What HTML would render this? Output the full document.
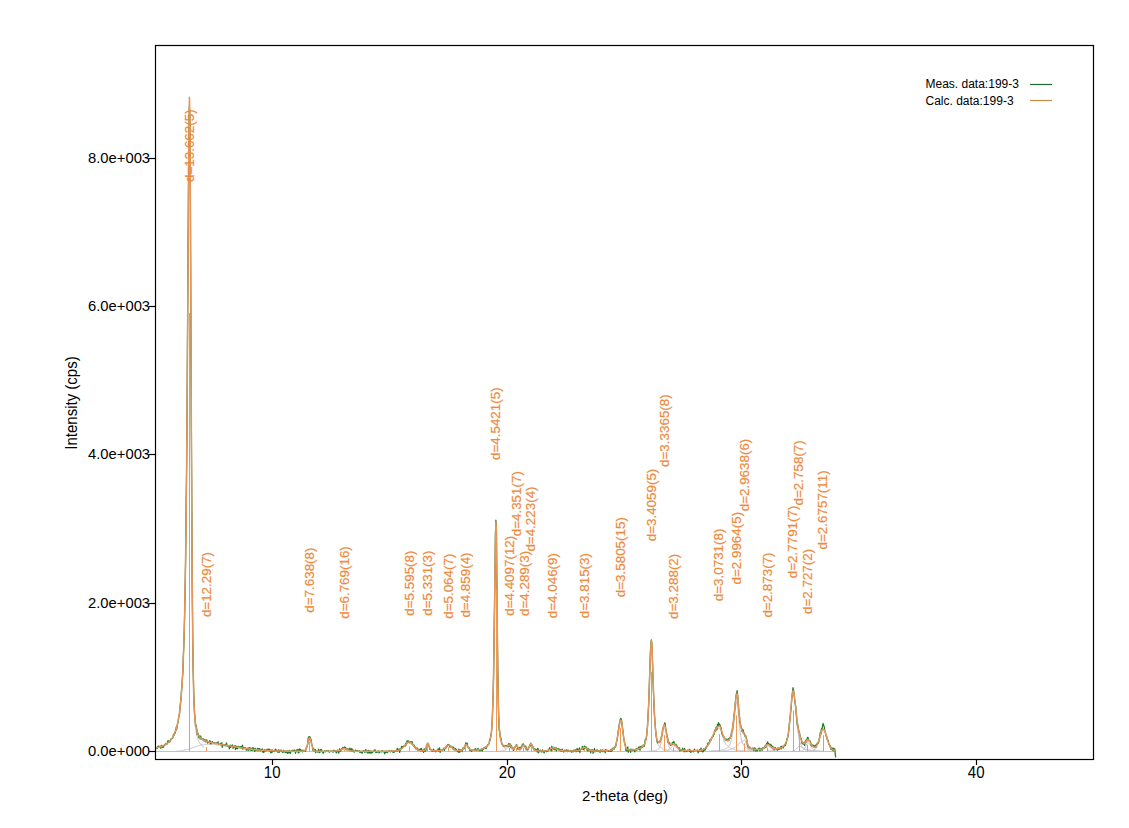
<!DOCTYPE html><html><head><meta charset="utf-8"><style>html,body{margin:0;padding:0;background:#fff;width:1129px;height:828px;overflow:hidden}svg{display:block}text{font-family:"Liberation Sans",sans-serif}</style></head><body>
<svg width="1129" height="828" viewBox="0 0 1129 828">
<rect x="0" y="0" width="1129" height="828" fill="#fff"/>
<defs><clipPath id="c"><rect x="156" y="46" width="937" height="713"/></clipPath></defs>
<g clip-path="url(#c)">
<line x1="155.2" y1="751.5" x2="835.7" y2="751.5" stroke="#C4C0CC" stroke-width="1"/>
<path d="M169.0 741.9L169.4 741.5L169.9 741.0L170.4 740.5L170.8 739.9L171.3 739.3L171.8 738.7L172.2 738.0L172.7 737.3L173.2 736.5L173.6 735.6L174.1 734.6L174.6 733.6L175.0 732.5L175.5 731.2L176.0 729.8L176.4 728.3L176.9 726.7L177.4 724.8L177.8 722.7L178.3 720.4L178.8 717.8L179.2 714.8L179.7 711.5L180.2 707.7L180.6 703.3L181.1 698.3L181.6 692.5L182.0 685.6L182.5 677.6L183.0 668.0L183.4 656.4L183.9 642.5L184.4 625.4L184.8 604.3L185.3 578.1L185.8 545.6L186.2 505.2L186.7 455.6L187.2 395.6L187.6 325.7L188.1 249.6L188.6 176.3L189.0 120.8L189.5 98.9L190.0 131.1L190.4 217.4L190.9 327.2L191.4 435.1L191.9 526.8L192.3 597.0L192.8 646.3L193.3 678.5L193.7 698.7L194.2 711.3L194.7 719.3L195.1 724.7L195.6 728.6L196.1 731.6L196.5 734.1L197.0 736.1L197.5 737.7L197.9 739.2L198.4 740.4L198.9 741.4L199.3 742.3L199.8 743.1L200.3 743.8L200.7 744.4L201.2 745.0L201.7 745.5L202.1 745.9L202.6 746.3L203.1 746.6L203.5 746.9L204.0 747.2" fill="none" stroke="#C4C0CC" stroke-width="1"/>
<path d="M176.3 751.2L176.7 751.2L177.2 751.1L177.7 751.1L178.1 751.0L178.6 751.0L179.1 750.9L179.5 750.9L180.0 750.8L180.5 750.8L181.0 750.7L181.4 750.7L181.9 750.6L182.4 750.5L182.8 750.4L183.3 750.4L183.8 750.3L184.2 750.2L184.7 750.1L185.2 750.0L185.6 749.9L186.1 749.8L186.6 749.7L187.0 749.5L187.5 749.4L188.0 749.3L188.5 749.2L188.9 749.0L189.4 748.9L189.9 748.7L190.3 748.6L190.8 748.4L191.3 748.3L191.7 748.1L192.2 748.0L192.7 747.8L193.1 747.6L193.6 747.5L194.1 747.3L194.6 747.1L195.0 747.0L195.5 746.8L196.0 746.6L196.4 746.5L196.9 746.3L197.4 746.2L197.8 746.0L198.3 745.9L198.8 745.7L199.2 745.6L199.7 745.5L200.2 745.3L200.6 745.2L201.1 745.1L201.6 745.0L202.1 744.9L202.5 744.8L203.0 744.7L203.5 744.6L203.9 744.6L204.4 744.5L204.9 744.5L205.3 744.5L205.8 744.4L206.3 744.4L206.7 744.4L207.2 744.4L207.7 744.4L208.1 744.4L208.6 744.5L209.1 744.5L209.6 744.5L210.0 744.5L210.5 744.5L211.0 744.5L211.4 744.5L211.9 744.6L212.4 744.6L212.8 744.6L213.3 744.6L213.8 744.7L214.2 744.7L214.7 744.7L215.2 744.8L215.6 744.8L216.1 744.9L216.6 744.9L217.1 744.9L217.5 745.0L218.0 745.0L218.5 745.1L218.9 745.1L219.4 745.2L219.9 745.2L220.3 745.3L220.8 745.3L221.3 745.4L221.7 745.4L222.2 745.5L222.7 745.6L223.2 745.6L223.6 745.7L224.1 745.7L224.6 745.8L225.0 745.9L225.5 745.9L226.0 746.0L226.4 746.1L226.9 746.1L227.4 746.2L227.8 746.3L228.3 746.3L228.8 746.4L229.2 746.5L229.7 746.5L230.2 746.6L230.7 746.7L231.1 746.7L231.6 746.8L232.1 746.9L232.5 747.0L233.0 747.0L233.5 747.1L233.9 747.2L234.4 747.2L234.9 747.3L235.3 747.4L235.8 747.5L236.3 747.5L236.7 747.6L237.2 747.7L237.7 747.7L238.2 747.8L238.6 747.9L239.1 747.9L239.6 748.0L240.0 748.1L240.5 748.1L241.0 748.2L241.4 748.3L241.9 748.3L242.4 748.4L242.8 748.5L243.3 748.5L243.8 748.6L244.3 748.7L244.7 748.7L245.2 748.8L245.7 748.8L246.1 748.9L246.6 749.0L247.1 749.0L247.5 749.1L248.0 749.1L248.5 749.2L248.9 749.2L249.4 749.3L249.9 749.3L250.3 749.4L250.8 749.5L251.3 749.5L251.8 749.6L252.2 749.6L252.7 749.6L253.2 749.7L253.6 749.7L254.1 749.8L254.6 749.8L255.0 749.9L255.5 749.9L256.0 750.0L256.4 750.0L256.9 750.0L257.4 750.1L257.8 750.1L258.3 750.2L258.8 750.2L259.3 750.2L259.7 750.3L260.2 750.3L260.7 750.3L261.1 750.4L261.6 750.4L262.1 750.4L262.5 750.5L263.0 750.5L263.5 750.5L263.9 750.6L264.4 750.6L264.9 750.6L265.3 750.6L265.8 750.7L266.3 750.7L266.8 750.7L267.2 750.7L267.7 750.8L268.2 750.8L268.6 750.8L269.1 750.8L269.6 750.9L270.0 750.9L270.5 750.9L271.0 750.9L271.4 750.9L271.9 750.9L272.4 751.0L272.9 751.0L273.3 751.0L273.8 751.0L274.3 751.0L274.7 751.0L275.2 751.1L275.7 751.1L276.1 751.1L276.6 751.1L277.1 751.1L277.5 751.1L278.0 751.1L278.5 751.1L278.9 751.2L279.4 751.2L279.9 751.2L280.4 751.2L280.8 751.2" fill="none" stroke="#C4C0CC" stroke-width="1"/>
<path d="M304.2 751.2L304.6 751.0L305.1 750.7L305.6 750.2L306.0 749.4L306.5 748.3L307.0 746.7L307.4 744.8L307.9 742.7L308.4 740.7L308.8 739.1L309.3 738.2L309.8 738.3L310.2 739.0L310.7 740.4L311.1 742.2L311.6 744.1L312.1 745.9L312.5 747.6L313.0 748.9L313.5 749.8L313.9 750.5L314.4 750.9L314.9 751.2" fill="none" stroke="#C4C0CC" stroke-width="1"/>
<path d="M335.9 751.2L336.4 751.1L336.8 751.1L337.3 751.0L337.8 750.9L338.2 750.8L338.7 750.7L339.2 750.6L339.6 750.4L340.1 750.2L340.6 750.0L341.0 749.8L341.5 749.6L342.0 749.4L342.5 749.2L342.9 749.0L343.4 748.8L343.9 748.7L344.3 748.6L344.8 748.6L345.3 748.7L345.7 748.9L346.2 749.1L346.7 749.3L347.1 749.5L347.6 749.8L348.1 750.0L348.5 750.2L349.0 750.4L349.5 750.6L350.0 750.7L350.4 750.9L350.9 751.0L351.4 751.0L351.8 751.1L352.3 751.2" fill="none" stroke="#C4C0CC" stroke-width="1"/>
<path d="M392.7 751.2L393.2 751.2L393.6 751.2L394.1 751.1L394.6 751.1L395.0 751.1L395.5 751.0L396.0 751.0L396.5 750.9L396.9 750.8L397.4 750.8L397.9 750.6L398.3 750.5L398.8 750.4L399.3 750.2L399.7 750.0L400.2 749.8L400.7 749.5L401.1 749.2L401.6 748.9L402.1 748.5L402.5 748.1L403.0 747.7L403.5 747.2L403.9 746.7L404.4 746.2L404.9 745.6L405.4 745.1L405.8 744.5L406.3 744.0L406.8 743.5L407.2 743.1L407.7 742.7L408.2 742.4L408.6 742.2L409.1 742.2L409.6 742.2L410.0 742.3L410.5 742.6L411.0 742.9L411.4 743.3L411.9 743.8L412.4 744.4L412.9 744.9L413.3 745.5L413.8 746.1L414.3 746.7L414.7 747.2L415.2 747.8L415.7 748.2L416.1 748.7L416.6 749.1L417.1 749.4L417.5 749.8L418.0 750.0L418.5 750.3L418.9 750.5L419.4 750.6L419.9 750.8L420.4 750.9L420.8 751.0L421.3 751.1L421.8 751.1L422.2 751.2L422.7 751.2" fill="none" stroke="#C4C0CC" stroke-width="1"/>
<path d="M423.7 751.2L424.1 751.1L424.6 750.9L425.1 750.5L425.5 749.8L426.0 748.7L426.5 747.2L426.9 745.4L427.4 743.9L427.8 743.5L428.3 744.1L428.8 745.3L429.2 746.7L429.7 748.0L430.2 749.1L430.6 749.8L431.1 750.3L431.6 750.7L432.0 750.9L432.5 751.0L432.9 751.1L433.4 751.2" fill="none" stroke="#C4C0CC" stroke-width="1"/>
<path d="M437.8 751.2L438.3 751.1L438.8 751.1L439.2 751.1L439.7 751.0L440.2 750.9L440.6 750.8L441.1 750.7L441.6 750.6L442.0 750.4L442.5 750.2L443.0 749.9L443.4 749.6L443.9 749.2L444.4 748.8L444.9 748.4L445.3 747.9L445.8 747.4L446.3 746.9L446.7 746.4L447.2 746.0L447.7 745.7L448.1 745.5L448.6 745.4L449.1 745.5L449.5 745.7L450.0 746.0L450.5 746.4L450.9 746.8L451.4 747.3L451.9 747.7L452.3 748.2L452.8 748.6L453.3 749.0L453.7 749.4L454.2 749.7L454.7 750.0L455.1 750.3L455.6 750.5L456.1 750.6L456.5 750.8L457.0 750.9L457.5 751.0L457.9 751.1L458.4 751.1L458.9 751.2" fill="none" stroke="#C4C0CC" stroke-width="1"/>
<path d="M460.8 751.2L461.3 751.1L461.8 750.9L462.2 750.7L462.7 750.3L463.1 749.7L463.6 749.0L464.1 748.1L464.5 747.1L465.0 746.2L465.5 745.4L465.9 745.1L466.4 745.3L466.9 745.7L467.3 746.4L467.8 747.2L468.2 747.9L468.7 748.6L469.2 749.3L469.6 749.8L470.1 750.2L470.6 750.5L471.0 750.8L471.5 750.9L472.0 751.1L472.4 751.1L472.9 751.2" fill="none" stroke="#C4C0CC" stroke-width="1"/>
<path d="M480.5 749.7L481.0 749.6L481.5 749.5L481.9 749.4L482.4 749.2L482.9 749.0L483.3 748.9L483.8 748.7L484.3 748.4L484.7 748.2L485.2 747.9L485.7 747.6L486.1 747.2L486.6 746.8L487.1 746.4L487.5 745.8L488.0 745.2L488.5 744.4L488.9 743.5L489.4 742.5L489.9 741.1L490.3 739.4L490.8 737.1L491.3 733.8L491.7 728.9L492.2 721.5L492.7 710.3L493.1 694.1L493.6 671.7L494.1 642.9L494.5 608.7L495.0 572.4L495.5 540.6L495.9 522.3L496.4 531.2L496.8 578.7L497.3 632.0L497.8 673.1L498.2 700.3L498.7 716.7L499.2 726.5L499.6 732.4L500.1 736.4L500.6 739.2L501.0 741.3L501.5 742.9L502.0 744.1L502.4 745.1L502.9 745.9L503.4 746.6L503.8 747.2L504.3 747.6L504.8 748.0L505.2 748.4L505.7 748.7L506.2 748.9" fill="none" stroke="#C4C0CC" stroke-width="1"/>
<path d="M498.9 751.2L499.3 751.2L499.8 751.1L500.3 751.1L500.7 751.1L501.2 751.0L501.7 751.0L502.1 750.9L502.6 750.8L503.1 750.7L503.5 750.6L504.0 750.4L504.5 750.2L504.9 750.0L505.4 749.8L505.9 749.5L506.3 749.1L506.8 748.7L507.3 748.3L507.7 747.9L508.2 747.5L508.7 747.1L509.1 746.8L509.6 746.6L510.1 746.6L510.5 747.0L511.0 747.8L511.5 748.7L511.9 749.6L512.4 750.2L512.9 750.6L513.4 750.9L513.8 751.1L514.3 751.2" fill="none" stroke="#C4C0CC" stroke-width="1"/>
<path d="M511.9 751.2L512.4 751.1L512.9 751.0L513.3 750.7L513.8 750.4L514.2 749.8L514.7 749.1L515.2 748.2L515.6 747.3L516.1 746.6L516.5 746.4L517.0 746.8L517.5 747.5L517.9 748.3L518.4 749.1L518.9 749.8L519.3 750.3L519.8 750.6L520.2 750.9L520.7 751.0L521.2 751.1L521.6 751.2" fill="none" stroke="#C4C0CC" stroke-width="1"/>
<path d="M518.0 751.2L518.5 751.1L519.0 751.0L519.4 750.8L519.9 750.6L520.4 750.3L520.8 749.8L521.3 749.1L521.8 748.3L522.2 747.4L522.7 746.5L523.2 746.0L523.6 745.9L524.1 746.4L524.6 747.1L525.0 748.0L525.5 748.9L525.9 749.6L526.4 750.1L526.9 750.5L527.3 750.8L527.8 751.0L528.3 751.1L528.7 751.1" fill="none" stroke="#C4C0CC" stroke-width="1"/>
<path d="M524.5 751.2L524.9 751.1L525.4 751.0L525.9 751.0L526.3 750.8L526.8 750.6L527.3 750.3L527.7 749.9L528.2 749.3L528.7 748.6L529.1 747.6L529.6 746.5L530.1 745.4L530.5 744.5L531.0 744.1L531.5 744.4L531.9 745.3L532.4 746.6L532.9 747.9L533.3 748.9L533.8 749.7L534.3 750.3L534.7 750.7L535.2 750.9L535.7 751.0L536.1 751.1L536.6 751.2" fill="none" stroke="#C4C0CC" stroke-width="1"/>
<path d="M545.5 751.2L546.0 751.1L546.4 751.0L546.9 750.9L547.4 750.8L547.8 750.6L548.3 750.4L548.8 750.2L549.2 750.0L549.7 749.7L550.2 749.4L550.7 749.0L551.1 748.7L551.6 748.4L552.1 748.2L552.5 748.0L553.0 748.0L553.5 748.0L553.9 748.1L554.4 748.3L554.9 748.5L555.3 748.7L555.8 748.9L556.3 749.2L556.8 749.4L557.2 749.6L557.7 749.8L558.2 750.0L558.6 750.2L559.1 750.4L559.6 750.5L560.0 750.7L560.5 750.8L561.0 750.9L561.4 750.9L561.9 751.0L562.4 751.1L562.9 751.1L563.3 751.1L563.8 751.2" fill="none" stroke="#C4C0CC" stroke-width="1"/>
<path d="M576.2 751.2L576.7 751.1L577.1 751.1L577.6 751.0L578.1 750.9L578.5 750.8L579.0 750.7L579.5 750.5L579.9 750.3L580.4 750.1L580.8 749.8L581.3 749.5L581.8 749.2L582.2 748.9L582.7 748.5L583.2 748.2L583.6 748.0L584.1 747.8L584.6 747.8L585.0 747.8L585.5 748.0L586.0 748.3L586.4 748.7L586.9 749.0L587.4 749.4L587.8 749.7L588.3 750.0L588.8 750.3L589.2 750.5L589.7 750.7L590.2 750.8L590.6 750.9L591.1 751.0L591.6 751.1L592.0 751.2" fill="none" stroke="#C4C0CC" stroke-width="1"/>
<path d="M602.7 751.2L603.2 751.2L603.6 751.2L604.1 751.1L604.6 751.1L605.1 751.1L605.5 751.1L606.0 751.1L606.5 751.0L606.9 751.0L607.4 751.0L607.9 750.9L608.3 750.9L608.8 750.8L609.3 750.8L609.7 750.7L610.2 750.7L610.7 750.6L611.1 750.5L611.6 750.4L612.1 750.2L612.6 750.0L613.0 749.8L613.5 749.4L614.0 748.9L614.4 748.3L614.9 747.5L615.4 746.4L615.8 745.0L616.3 743.3L616.8 741.2L617.2 738.8L617.7 736.1L618.2 733.2L618.6 730.2L619.1 727.3L619.6 724.6L620.0 722.5L620.5 721.1L621.0 720.8L621.5 721.8L621.9 724.1L622.4 727.5L622.9 731.3L623.3 735.2L623.8 738.8L624.3 741.9L624.7 744.5L625.2 746.4L625.7 747.9L626.1 748.9L626.6 749.6L627.1 750.1L627.5 750.4L628.0 750.6L628.5 750.7L628.9 750.8L629.4 750.9L629.9 751.0L630.4 751.0L630.8 751.1L631.3 751.1L631.8 751.1L632.2 751.2L632.7 751.2" fill="none" stroke="#C4C0CC" stroke-width="1"/>
<path d="M632.6 750.5L633.0 750.4L633.5 750.4L633.9 750.3L634.4 750.3L634.9 750.2L635.3 750.1L635.8 750.0L636.3 749.9L636.7 749.8L637.2 749.7L637.7 749.6L638.1 749.5L638.6 749.3L639.0 749.2L639.5 749.0L640.0 748.8L640.4 748.6L640.9 748.3L641.4 748.0L641.8 747.7L642.3 747.3L642.8 746.9L643.2 746.4L643.7 745.8L644.1 745.1L644.6 744.2L645.1 743.0L645.5 741.6L646.0 739.5L646.5 736.8L646.9 733.1L647.4 728.0L647.8 721.2L648.3 712.5L648.8 701.8L649.2 689.1L649.7 675.2L650.2 661.2L650.6 649.4L651.1 642.4L651.6 642.4L652.0 649.4L652.5 661.2L652.9 675.2L653.4 689.1L653.9 701.8L654.3 712.5L654.8 721.2L655.3 728.0L655.7 733.1L656.2 736.8L656.7 739.5L657.1 741.6L657.6 743.0L658.0 744.2L658.5 745.1L659.0 745.8L659.4 746.4L659.9 746.9L660.4 747.3L660.8 747.7L661.3 748.0L661.8 748.3L662.2 748.6L662.7 748.8L663.1 749.0L663.6 749.2L664.1 749.3L664.5 749.5L665.0 749.6L665.5 749.7L665.9 749.8L666.4 749.9L666.9 750.0L667.3 750.1L667.8 750.2L668.2 750.3L668.7 750.3L669.2 750.4L669.6 750.4L670.1 750.5" fill="none" stroke="#C4C0CC" stroke-width="1"/>
<path d="M648.2 751.2L648.7 751.2L649.2 751.2L649.6 751.1L650.1 751.1L650.6 751.1L651.0 751.1L651.5 751.0L652.0 751.0L652.4 751.0L652.9 750.9L653.3 750.9L653.8 750.8L654.3 750.8L654.7 750.7L655.2 750.6L655.7 750.5L656.1 750.4L656.6 750.3L657.1 750.1L657.5 749.9L658.0 749.6L658.5 749.2L658.9 748.7L659.4 747.9L659.9 747.0L660.3 745.7L660.8 744.0L661.2 742.0L661.7 739.6L662.2 736.9L662.6 734.1L663.1 731.4L663.6 729.1L664.0 727.8L664.5 727.6L665.0 728.5L665.4 730.3L665.9 732.7L666.4 735.3L666.8 737.9L667.3 740.3L667.7 742.4L668.2 744.2L668.7 745.7L669.1 746.9L669.6 747.8L670.1 748.5L670.5 749.1L671.0 749.5L671.5 749.8L671.9 750.0L672.4 750.2L672.9 750.3L673.3 750.4L673.8 750.5L674.2 750.6L674.7 750.7L675.2 750.7L675.6 750.8L676.1 750.9L676.6 750.9L677.0 750.9L677.5 751.0L678.0 751.0L678.4 751.0L678.9 751.1L679.4 751.1L679.8 751.1L680.3 751.1L680.8 751.2L681.2 751.2L681.7 751.2" fill="none" stroke="#C4C0CC" stroke-width="1"/>
<path d="M662.8 751.2L663.2 751.2L663.7 751.1L664.2 751.1L664.6 751.1L665.1 751.0L665.6 750.9L666.0 750.8L666.5 750.7L667.0 750.6L667.4 750.4L667.9 750.2L668.4 749.9L668.8 749.6L669.3 749.3L669.8 748.9L670.2 748.4L670.7 748.0L671.2 747.5L671.6 747.0L672.1 746.5L672.6 746.1L673.0 745.8L673.5 745.7L674.0 745.7L674.4 745.9L674.9 746.2L675.4 746.6L675.8 747.1L676.3 747.7L676.8 748.2L677.2 748.7L677.7 749.1L678.2 749.5L678.6 749.9L679.1 750.1L679.6 750.4L680.0 750.6L680.5 750.7L681.0 750.8L681.4 750.9L681.9 751.0L682.4 751.1L682.8 751.1L683.3 751.2L683.8 751.2" fill="none" stroke="#C4C0CC" stroke-width="1"/>
<path d="M699.9 751.2L700.4 751.1L700.8 751.0L701.3 750.9L701.8 750.8L702.3 750.7L702.7 750.5L703.2 750.3L703.7 750.1L704.1 749.8L704.6 749.6L705.1 749.2L705.5 748.8L706.0 748.4L706.5 747.9L706.9 747.4L707.4 746.9L707.9 746.2L708.3 745.5L708.8 744.8L709.3 744.0L709.8 743.2L710.2 742.3L710.7 741.4L711.2 740.4L711.6 739.4L712.1 738.4L712.6 737.4L713.0 736.4L713.5 735.4L714.0 734.4L714.4 733.4L714.9 732.5L715.4 731.7L715.9 730.9L716.3 730.2L716.8 729.5L717.3 729.0L717.7 728.6L718.2 728.3L718.7 728.1L719.1 728.1L719.6 728.3L720.1 729.0L720.5 730.0L721.0 731.3L721.5 732.8L721.9 734.3L722.4 735.9L722.9 737.3L723.4 738.7L723.8 739.9L724.3 741.0L724.8 742.0L725.2 742.9L725.7 743.7L726.2 744.4L726.6 745.0L727.1 745.6L727.6 746.1L728.0 746.5L728.5 746.9L729.0 747.2L729.5 747.6L729.9 747.8L730.4 748.1L730.9 748.3L731.3 748.5L731.8 748.7L732.3 748.9L732.7 749.1L733.2 749.2L733.7 749.3L734.1 749.5L734.6 749.6L735.1 749.7L735.5 749.8L736.0 749.9L736.5 749.9L737.0 750.0L737.4 750.1L737.9 750.2L738.4 750.2L738.8 750.3L739.3 750.3L739.8 750.4L740.2 750.4L740.7 750.5L741.2 750.5L741.6 750.5L742.1 750.6L742.6 750.6L743.1 750.7L743.5 750.7L744.0 750.7L744.5 750.7L744.9 750.8L745.4 750.8L745.9 750.8L746.3 750.8L746.8 750.9L747.3 750.9L747.7 750.9L748.2 750.9L748.7 750.9L749.1 751.0L749.6 751.0L750.1 751.0L750.6 751.0L751.0 751.0L751.5 751.0L752.0 751.0L752.4 751.1L752.9 751.1L753.4 751.1L753.8 751.1L754.3 751.1L754.8 751.1L755.2 751.1L755.7 751.1L756.2 751.1" fill="none" stroke="#C4C0CC" stroke-width="1"/>
<path d="M708.9 751.0L709.4 751.0L709.9 751.0L710.3 751.0L710.8 750.9L711.3 750.9L711.7 750.9L712.2 750.9L712.7 750.9L713.1 750.8L713.6 750.8L714.1 750.8L714.5 750.7L715.0 750.7L715.5 750.7L715.9 750.6L716.4 750.6L716.8 750.6L717.3 750.5L717.8 750.5L718.2 750.4L718.7 750.4L719.2 750.3L719.6 750.3L720.1 750.2L720.6 750.1L721.0 750.0L721.5 750.0L722.0 749.9L722.4 749.8L722.9 749.7L723.4 749.5L723.8 749.4L724.3 749.3L724.8 749.1L725.2 748.9L725.7 748.7L726.2 748.5L726.6 748.2L727.1 747.9L727.6 747.5L728.0 747.1L728.5 746.6L729.0 745.9L729.4 745.2L729.9 744.2L730.4 743.0L730.8 741.6L731.3 739.8L731.8 737.7L732.2 735.2L732.7 732.3L733.2 729.0L733.6 725.2L734.1 721.2L734.5 716.8L735.0 712.5L735.5 708.4L735.9 704.9L736.4 702.4L736.9 701.3L737.3 702.2L737.8 706.2L738.3 711.8L738.7 717.9L739.2 723.5L739.7 728.3L740.1 732.2L740.6 735.3L741.1 737.9L741.5 739.9L742.0 741.6L742.5 742.9L742.9 744.0L743.4 744.9L743.9 745.7L744.3 746.3L744.8 746.9L745.3 747.3L745.7 747.7L746.2 748.1L746.7 748.4L747.1 748.6L747.6 748.9L748.1 749.1L748.5 749.3L749.0 749.4L749.5 749.6L749.9 749.7L750.4 749.8L750.9 749.9L751.3 750.0L751.8 750.1L752.2 750.2L752.7 750.3L753.2 750.3L753.6 750.4L754.1 750.5L754.6 750.5L755.0 750.6L755.5 750.6L756.0 750.7L756.4 750.7L756.9 750.7" fill="none" stroke="#C4C0CC" stroke-width="1"/>
<path d="M710.9 751.2L711.4 751.2L711.9 751.2L712.3 751.2L712.8 751.2L713.3 751.2L713.7 751.1L714.2 751.1L714.7 751.1L715.1 751.1L715.6 751.1L716.1 751.1L716.5 751.1L717.0 751.1L717.5 751.0L717.9 751.0L718.4 751.0L718.9 751.0L719.3 751.0L719.8 751.0L720.3 750.9L720.7 750.9L721.2 750.9L721.7 750.9L722.1 750.8L722.6 750.8L723.1 750.8L723.5 750.7L724.0 750.7L724.5 750.7L724.9 750.6L725.4 750.6L725.9 750.5L726.3 750.4L726.8 750.4L727.3 750.3L727.8 750.2L728.2 750.1L728.7 750.0L729.2 749.9L729.6 749.8L730.1 749.6L730.6 749.5L731.0 749.3L731.5 749.1L732.0 748.9L732.4 748.7L732.9 748.5L733.4 748.2L733.8 747.9L734.3 747.7L734.8 747.4L735.2 747.0L735.7 746.7L736.2 746.3L736.6 746.0L737.1 745.6L737.6 745.2L738.0 744.8L738.5 744.4L739.0 744.0L739.4 743.5L739.9 743.1L740.4 742.7L740.8 742.3L741.3 742.0L741.8 741.6L742.2 741.3L742.7 741.0L743.2 740.8L743.6 740.6L744.1 740.5L744.6 740.4L745.0 740.5L745.5 741.2L746.0 742.5L746.4 744.0L746.9 745.5L747.4 746.9L747.8 748.1L748.3 748.9L748.8 749.6L749.2 750.1L749.7 750.4L750.2 750.6L750.6 750.8L751.1 750.9L751.6 751.0L752.1 751.0L752.5 751.1L753.0 751.1L753.5 751.2L753.9 751.2" fill="none" stroke="#C4C0CC" stroke-width="1"/>
<path d="M758.8 751.2L759.3 751.2L759.8 751.1L760.2 751.0L760.7 750.9L761.2 750.8L761.6 750.7L762.1 750.5L762.6 750.2L763.0 749.9L763.5 749.6L764.0 749.2L764.4 748.7L764.9 748.3L765.4 747.8L765.8 747.3L766.3 746.8L766.8 746.4L767.2 746.2L767.7 746.1L768.2 746.1L768.6 746.3L769.1 746.6L769.6 746.9L770.0 747.4L770.5 747.8L771.0 748.3L771.4 748.7L771.9 749.1L772.4 749.5L772.8 749.8L773.3 750.1L773.8 750.3L774.2 750.5L774.7 750.7L775.2 750.8L775.6 750.9L776.1 751.0L776.6 751.1L777.0 751.1L777.5 751.2" fill="none" stroke="#C4C0CC" stroke-width="1"/>
<path d="M767.0 750.8L767.5 750.8L767.9 750.7L768.4 750.7L768.9 750.7L769.3 750.7L769.8 750.6L770.3 750.6L770.7 750.5L771.2 750.5L771.7 750.5L772.1 750.4L772.6 750.4L773.1 750.3L773.5 750.3L774.0 750.2L774.5 750.1L774.9 750.1L775.4 750.0L775.9 749.9L776.3 749.8L776.8 749.7L777.3 749.6L777.7 749.5L778.2 749.4L778.7 749.3L779.1 749.1L779.6 749.0L780.1 748.8L780.5 748.6L781.0 748.4L781.5 748.1L781.9 747.9L782.4 747.6L782.9 747.2L783.3 746.9L783.8 746.4L784.3 745.9L784.7 745.3L785.2 744.6L785.7 743.7L786.1 742.6L786.6 741.3L787.1 739.8L787.5 737.9L788.0 735.6L788.5 732.8L788.9 729.5L789.4 725.6L789.9 721.2L790.3 716.2L790.8 710.8L791.3 705.3L791.7 700.0L792.2 695.6L792.7 692.7L793.1 691.8L793.6 692.8L794.1 695.2L794.5 698.8L795.0 703.3L795.5 708.1L795.9 713.1L796.4 718.0L796.9 722.6L797.3 726.9L797.8 730.7L798.3 734.0L798.7 736.8L799.2 739.2L799.7 741.2L800.1 742.8L800.6 744.1L801.1 745.1L801.5 746.0L802.0 746.7L802.5 747.2L802.9 747.7L803.4 748.0L803.9 748.3L804.3 748.6L804.8 748.8L805.3 749.0L805.7 749.2L806.2 749.3L806.7 749.5L807.1 749.6L807.6 749.7L808.1 749.8L808.5 749.9L809.0 750.0L809.5 750.1L809.9 750.1L810.4 750.2L810.9 750.3L811.3 750.3L811.8 750.4L812.3 750.4L812.7 750.5L813.2 750.5L813.7 750.6L814.1 750.6L814.6 750.7L815.1 750.7L815.5 750.7L816.0 750.8L816.5 750.8L816.9 750.8L817.4 750.8L817.9 750.9L818.3 750.9L818.8 750.9L819.3 750.9L819.7 750.9L820.2 751.0L820.7 751.0L821.1 751.0L821.6 751.0L822.1 751.0L822.5 751.0" fill="none" stroke="#C4C0CC" stroke-width="1"/>
<path d="M792.2 751.2L792.6 751.1L793.1 751.0L793.6 750.9L794.0 750.7L794.5 750.5L795.0 750.2L795.4 749.8L795.9 749.4L796.4 748.8L796.8 748.2L797.3 747.6L797.8 747.0L798.2 746.5L798.7 746.3L799.2 746.2L799.6 746.3L800.1 746.4L800.6 746.6L801.1 746.9L801.5 747.2L802.0 747.5L802.5 747.8L802.9 748.1L803.4 748.5L803.9 748.8L804.3 749.1L804.8 749.3L805.3 749.6L805.7 749.8L806.2 750.0L806.7 750.2L807.1 750.4L807.6 750.5L808.1 750.7L808.5 750.8L809.0 750.8L809.5 750.9L810.0 751.0L810.4 751.0L810.9 751.1L811.4 751.1L811.8 751.2L812.3 751.2" fill="none" stroke="#C4C0CC" stroke-width="1"/>
<path d="M798.9 751.2L799.4 751.1L799.9 751.1L800.3 751.1L800.8 751.0L801.3 750.9L801.7 750.8L802.2 750.7L802.7 750.5L803.1 750.3L803.6 750.0L804.0 749.5L804.5 748.9L805.0 748.2L805.4 747.3L805.9 746.2L806.4 745.1L806.8 744.1L807.3 743.2L807.8 742.8L808.2 742.8L808.7 743.1L809.2 743.5L809.6 744.1L810.1 744.8L810.6 745.5L811.0 746.2L811.5 746.9L812.0 747.6L812.4 748.2L812.9 748.7L813.4 749.2L813.8 749.6L814.3 750.0L814.8 750.2L815.2 750.5L815.7 750.6L816.2 750.8L816.6 750.9L817.1 751.0L817.6 751.0L818.0 751.1L818.5 751.1L818.9 751.2L819.4 751.2" fill="none" stroke="#C4C0CC" stroke-width="1"/>
<path d="M806.8 751.2L807.3 751.2L807.7 751.2L808.2 751.1L808.7 751.1L809.1 751.1L809.6 751.1L810.1 751.0L810.5 751.0L811.0 750.9L811.5 750.9L811.9 750.8L812.4 750.7L812.9 750.6L813.3 750.5L813.8 750.3L814.3 750.0L814.7 749.7L815.2 749.3L815.7 748.8L816.1 748.2L816.6 747.4L817.1 746.5L817.5 745.4L818.0 744.2L818.4 742.8L818.9 741.3L819.4 739.7L819.8 738.0L820.3 736.3L820.8 734.7L821.2 733.2L821.7 731.9L822.2 730.9L822.6 730.2L823.1 730.0L823.6 730.2L824.0 730.7L824.5 731.5L825.0 732.5L825.4 733.8L825.9 735.2L826.4 736.7L826.8 738.2L827.3 739.7L827.8 741.2L828.2 742.6L828.7 743.9L829.2 745.1L829.6 746.2L830.1 747.1L830.6 747.9L831.0 748.6L831.5 749.1L832.0 749.6L832.4 749.9L832.9 750.2L833.4 750.5L833.8 750.6L834.3 750.8L834.8 750.9L835.2 751.0L835.7 751.1" fill="none" stroke="#C4C0CC" stroke-width="1"/>
<path d="M155.2 748.3L155.6 747.4L156.1 748.0L156.6 748.0L157.0 748.6L157.5 747.7L158.0 746.2L158.5 746.8L158.9 746.0L159.4 746.7L159.9 746.4L160.3 746.5L160.8 748.3L161.3 745.4L161.7 745.6L162.2 745.5L162.7 747.6L163.1 747.5L163.6 746.3L164.1 745.7L164.6 744.6L165.0 744.7L165.5 743.8L166.0 744.8L166.4 743.5L166.9 743.1L167.4 743.9L167.8 740.9L168.3 741.8L168.8 740.7L169.2 742.2L169.7 741.9L170.2 741.0L170.7 740.1L171.1 738.7L171.6 738.5L172.1 738.6L172.5 738.5L173.0 737.2L173.5 734.3L173.9 735.7L174.4 733.4L174.9 732.1L175.3 733.2L175.8 729.9L176.3 726.9L176.8 729.3L177.2 725.4L177.7 723.1L178.2 721.7L178.6 717.4L179.1 715.3L179.6 713.9L180.0 707.0L180.5 702.9L181.0 697.6L181.4 691.1L181.9 686.0L182.4 678.6L182.9 671.7L183.3 657.3L183.8 646.0L184.3 629.3L184.7 610.8L185.2 585.2L185.7 553.2L186.1 509.9L186.6 470.9L187.1 411.5L187.5 338.1L188.0 258.0L188.5 185.5L189.0 134.2L189.4 107.2L189.9 116.1L190.4 199.0L190.8 308.1L191.3 411.5L191.8 506.9L192.2 583.3L192.7 635.6L193.2 669.9L193.7 689.9L194.1 704.7L194.6 713.3L195.1 718.8L195.5 725.4L196.0 724.8L196.5 727.6L196.9 730.0L197.4 734.6L197.9 734.3L198.3 733.6L198.8 737.6L199.3 736.5L199.8 735.8L200.2 739.1L200.7 736.2L201.2 737.9L201.6 739.0L202.1 738.8L202.6 738.8L203.0 739.7L203.5 738.8L204.0 741.0L204.4 740.9L204.9 739.5L205.4 740.8L205.9 742.0L206.3 740.2L206.8 739.8L207.3 742.0L207.7 743.2L208.2 742.0L208.7 742.1L209.1 742.4L209.6 740.7L210.1 743.5L210.5 741.1L211.0 743.9L211.5 743.5L212.0 742.1L212.4 741.6L212.9 742.0L213.4 742.7L213.8 743.0L214.3 743.1L214.8 742.7L215.2 743.6L215.7 743.2L216.2 742.9L216.6 743.6L217.1 742.9L217.6 743.2L218.1 741.7L218.5 743.6L219.0 744.5L219.5 744.5L219.9 744.2L220.4 743.3L220.9 744.8L221.3 744.1L221.8 742.6L222.3 747.4L222.7 745.9L223.2 744.5L223.7 744.5L224.2 744.7L224.6 745.5L225.1 744.4L225.6 744.9L226.0 745.9L226.5 742.8L227.0 745.1L227.4 746.1L227.9 745.7L228.4 746.0L228.9 745.9L229.3 748.8L229.8 746.5L230.3 745.0L230.7 747.4L231.2 746.3L231.7 745.3L232.1 745.5L232.6 744.9L233.1 748.3L233.5 747.0L234.0 747.1L234.5 746.1L235.0 745.7L235.4 749.7L235.9 745.9L236.4 748.6L236.8 746.5L237.3 748.8L237.8 747.1L238.2 746.2L238.7 747.6L239.2 747.4L239.6 746.8L240.1 747.6L240.6 747.9L241.1 746.3L241.5 746.8L242.0 748.3L242.5 745.2L242.9 749.3L243.4 747.3L243.9 748.5L244.3 748.2L244.8 747.7L245.3 748.2L245.7 747.9L246.2 750.2L246.7 750.2L247.2 748.1L247.6 749.8L248.1 749.9L248.6 750.4L249.0 747.7L249.5 748.3L250.0 747.6L250.4 750.1L250.9 749.2L251.4 750.4L251.8 748.5L252.3 747.7L252.8 750.3L253.3 747.9L253.7 748.5L254.2 749.7L254.7 751.6L255.1 748.2L255.6 749.8L256.1 750.3L256.5 749.4L257.0 749.4L257.5 748.3L258.0 750.9L258.4 748.8L258.9 748.5L259.4 748.5L259.8 750.2L260.3 750.9L260.8 749.1L261.2 750.1L261.7 750.1L262.2 748.8L262.6 750.5L263.1 752.6L263.6 750.7L264.1 752.2L264.5 749.6L265.0 750.1L265.5 751.1L265.9 750.5L266.4 749.7L266.9 750.5L267.3 749.2L267.8 750.6L268.3 749.6L268.7 749.1L269.2 749.0L269.7 751.4L270.2 749.8L270.6 752.6L271.1 751.8L271.6 752.7L272.0 749.7L272.5 752.0L273.0 750.8L273.4 751.0L273.9 750.9L274.4 751.5L274.8 750.6L275.3 749.1L275.8 750.9L276.3 750.4L276.7 749.9L277.2 751.1L277.7 752.2L278.1 751.5L278.6 749.9L279.1 752.6L279.5 751.6L280.0 750.0L280.5 750.2L280.9 751.0L281.4 750.2L281.9 750.9L282.4 752.3L282.8 752.6L283.3 751.7L283.8 750.2L284.2 751.7L284.7 752.0L285.2 751.9L285.6 752.7L286.1 751.2L286.6 752.3L287.0 750.8L287.5 753.5L288.0 750.8L288.5 751.8L288.9 753.1L289.4 750.4L289.9 751.4L290.3 753.4L290.8 752.1L291.3 750.9L291.7 751.6L292.2 750.4L292.7 750.4L293.2 750.5L293.6 750.9L294.1 749.9L294.6 750.5L295.0 750.8L295.5 753.3L296.0 750.3L296.4 749.9L296.9 751.5L297.4 751.7L297.8 749.3L298.3 753.0L298.8 750.7L299.3 748.8L299.7 752.1L300.2 750.5L300.7 749.3L301.1 751.3L301.6 750.6L302.1 750.2L302.5 752.0L303.0 751.2L303.5 750.8L303.9 750.2L304.4 750.9L304.9 750.8L305.4 751.3L305.8 750.0L306.3 747.7L306.8 747.1L307.2 746.3L307.7 744.1L308.2 737.9L308.6 737.4L309.1 736.5L309.6 739.8L310.0 736.8L310.5 738.5L311.0 739.1L311.5 742.6L311.9 745.2L312.4 746.3L312.9 750.3L313.3 748.3L313.8 749.8L314.3 751.3L314.7 749.6L315.2 749.3L315.7 752.6L316.1 751.9L316.6 751.0L317.1 751.1L317.6 751.7L318.0 752.3L318.5 749.2L319.0 750.3L319.4 752.5L319.9 752.6L320.4 749.6L320.8 750.3L321.3 749.5L321.8 750.5L322.3 752.2L322.7 751.0L323.2 753.4L323.7 752.0L324.1 751.3L324.6 750.8L325.1 752.0L325.5 751.4L326.0 750.8L326.5 750.9L326.9 750.6L327.4 751.1L327.9 751.6L328.4 750.5L328.8 751.2L329.3 752.1L329.8 751.9L330.2 751.2L330.7 751.3L331.2 751.1L331.6 751.2L332.1 751.0L332.6 751.3L333.0 752.4L333.5 750.7L334.0 750.1L334.5 750.7L334.9 751.3L335.4 750.6L335.9 752.0L336.3 752.9L336.8 750.9L337.3 751.8L337.7 750.0L338.2 751.8L338.7 753.2L339.1 751.5L339.6 748.7L340.1 750.5L340.6 751.3L341.0 750.5L341.5 748.9L342.0 748.7L342.4 748.8L342.9 747.3L343.4 747.9L343.8 748.6L344.3 747.9L344.8 746.8L345.2 747.6L345.7 747.7L346.2 750.0L346.7 749.3L347.1 748.6L347.6 749.9L348.1 748.8L348.5 749.5L349.0 749.3L349.5 750.6L349.9 748.0L350.4 749.5L350.9 751.0L351.3 750.8L351.8 748.4L352.3 751.4L352.8 750.2L353.2 750.1L353.7 751.1L354.2 752.3L354.6 751.0L355.1 750.8L355.6 750.1L356.0 750.4L356.5 751.2L357.0 750.4L357.5 750.7L357.9 751.0L358.4 751.2L358.9 751.5L359.3 750.6L359.8 752.3L360.3 751.9L360.7 751.3L361.2 752.7L361.7 751.7L362.1 753.3L362.6 752.0L363.1 750.7L363.6 750.7L364.0 751.3L364.5 751.5L365.0 752.7L365.4 749.5L365.9 750.8L366.4 750.2L366.8 752.2L367.3 751.5L367.8 753.1L368.2 750.5L368.7 750.4L369.2 753.2L369.7 751.3L370.1 750.7L370.6 753.1L371.1 753.1L371.5 752.4L372.0 751.9L372.5 752.7L372.9 751.3L373.4 751.0L373.9 750.7L374.3 750.6L374.8 749.8L375.3 750.1L375.8 752.6L376.2 751.8L376.7 752.3L377.2 752.4L377.6 751.4L378.1 751.3L378.6 750.8L379.0 752.9L379.5 752.5L380.0 751.3L380.4 751.5L380.9 751.6L381.4 751.3L381.9 752.0L382.3 750.5L382.8 750.9L383.3 751.3L383.7 751.9L384.2 751.4L384.7 753.9L385.1 752.2L385.6 751.2L386.1 752.7L386.5 751.0L387.0 751.0L387.5 752.6L388.0 751.4L388.4 751.5L388.9 750.7L389.4 750.5L389.8 751.2L390.3 752.0L390.8 751.3L391.2 751.2L391.7 750.4L392.2 750.8L392.7 751.8L393.1 752.4L393.6 751.4L394.1 751.7L394.5 752.1L395.0 751.0L395.5 751.4L395.9 750.7L396.4 750.2L396.9 751.1L397.3 748.3L397.8 750.8L398.3 749.3L398.8 750.1L399.2 748.9L399.7 752.3L400.2 750.4L400.6 749.1L401.1 748.5L401.6 746.4L402.0 748.1L402.5 746.7L403.0 746.8L403.4 746.1L403.9 746.0L404.4 746.2L404.9 745.0L405.3 746.1L405.8 743.1L406.3 745.0L406.7 743.1L407.2 740.6L407.7 742.8L408.1 742.3L408.6 740.8L409.1 741.9L409.5 742.9L410.0 741.8L410.5 741.7L411.0 741.9L411.4 744.0L411.9 741.7L412.4 742.4L412.8 744.7L413.3 745.0L413.8 746.3L414.2 745.0L414.7 747.7L415.2 746.8L415.6 748.5L416.1 749.2L416.6 748.1L417.1 747.8L417.5 749.5L418.0 750.5L418.5 749.2L418.9 750.2L419.4 750.0L419.9 748.9L420.3 749.4L420.8 751.2L421.3 748.4L421.8 750.7L422.2 750.0L422.7 751.4L423.2 750.8L423.6 752.5L424.1 748.8L424.6 749.1L425.0 751.3L425.5 751.0L426.0 750.1L426.4 745.6L426.9 745.6L427.4 743.6L427.9 743.5L428.3 743.9L428.8 746.1L429.3 746.4L429.7 749.2L430.2 748.8L430.7 749.2L431.1 749.5L431.6 750.5L432.1 751.4L432.5 750.4L433.0 751.2L433.5 749.2L434.0 750.0L434.4 750.9L434.9 751.3L435.4 751.5L435.8 751.8L436.3 751.2L436.8 750.5L437.2 750.3L437.7 750.2L438.2 748.7L438.6 751.5L439.1 750.7L439.6 747.8L440.1 752.5L440.5 751.0L441.0 750.2L441.5 750.1L441.9 749.7L442.4 750.1L442.9 749.2L443.3 749.3L443.8 748.2L444.3 750.5L444.7 749.0L445.2 747.6L445.7 748.2L446.2 747.7L446.6 745.5L447.1 746.4L447.6 744.7L448.0 744.3L448.5 744.7L449.0 744.6L449.4 745.4L449.9 747.1L450.4 746.0L450.8 745.9L451.3 747.3L451.8 747.4L452.3 746.9L452.7 749.0L453.2 747.9L453.7 747.0L454.1 749.8L454.6 749.4L455.1 749.9L455.5 748.4L456.0 749.8L456.5 749.4L457.0 751.1L457.4 750.5L457.9 750.5L458.4 752.4L458.8 749.1L459.3 749.7L459.8 752.3L460.2 749.8L460.7 750.6L461.2 750.0L461.6 749.9L462.1 751.6L462.6 749.9L463.1 747.7L463.5 749.1L464.0 748.7L464.5 748.0L464.9 746.9L465.4 744.5L465.9 742.6L466.3 744.1L466.8 744.7L467.3 743.2L467.7 746.9L468.2 747.8L468.7 747.3L469.2 747.9L469.6 750.0L470.1 750.6L470.6 749.4L471.0 749.6L471.5 751.4L472.0 750.3L472.4 750.7L472.9 749.7L473.4 750.3L473.8 750.3L474.3 750.6L474.8 749.1L475.3 748.7L475.7 750.5L476.2 749.2L476.7 750.8L477.1 749.9L477.6 749.2L478.1 748.3L478.5 750.2L479.0 749.8L479.5 749.5L479.9 751.1L480.4 749.5L480.9 750.1L481.4 748.9L481.8 750.3L482.3 751.0L482.8 748.8L483.2 748.4L483.7 749.0L484.2 747.3L484.6 748.3L485.1 748.4L485.6 746.9L486.0 748.7L486.5 747.4L487.0 746.2L487.5 744.8L487.9 745.2L488.4 744.0L488.9 744.1L489.3 742.0L489.8 739.2L490.3 740.2L490.7 734.4L491.2 734.7L491.7 729.2L492.2 721.7L492.6 709.6L493.1 697.0L493.6 676.5L494.0 643.0L494.5 608.0L495.0 571.3L495.4 533.6L495.9 520.2L496.4 528.2L496.8 574.7L497.3 630.1L497.8 669.8L498.3 701.8L498.7 717.0L499.2 730.5L499.7 731.1L500.1 736.4L500.6 737.7L501.1 738.3L501.5 742.3L502.0 743.7L502.5 744.9L502.9 745.9L503.4 746.3L503.9 745.3L504.4 746.2L504.8 746.4L505.3 746.7L505.8 745.5L506.2 745.9L506.7 746.4L507.2 745.3L507.6 745.9L508.1 746.7L508.6 743.7L509.0 744.5L509.5 745.9L510.0 743.7L510.5 744.8L510.9 747.7L511.4 745.3L511.9 747.5L512.3 747.5L512.8 748.6L513.3 749.1L513.7 750.4L514.2 747.4L514.7 747.7L515.1 747.2L515.6 745.7L516.1 745.3L516.6 744.5L517.0 746.0L517.5 746.4L518.0 749.4L518.4 748.4L518.9 747.8L519.4 747.5L519.8 749.4L520.3 749.0L520.8 747.0L521.3 748.4L521.7 746.5L522.2 744.7L522.7 745.5L523.1 743.7L523.6 745.7L524.1 745.2L524.5 746.2L525.0 746.9L525.5 746.6L525.9 746.0L526.4 749.5L526.9 749.7L527.4 748.5L527.8 749.9L528.3 747.8L528.8 747.0L529.2 746.9L529.7 745.0L530.2 746.2L530.6 743.0L531.1 745.2L531.6 744.7L532.0 745.7L532.5 746.8L533.0 746.7L533.5 748.6L533.9 749.8L534.4 749.4L534.9 748.7L535.3 750.5L535.8 750.2L536.3 749.4L536.7 750.5L537.2 752.1L537.7 748.3L538.1 748.6L538.6 752.9L539.1 750.9L539.6 750.5L540.0 750.0L540.5 750.3L541.0 751.2L541.4 752.0L541.9 750.9L542.4 749.9L542.8 752.0L543.3 752.0L543.8 751.0L544.2 752.9L544.7 751.1L545.2 751.3L545.7 750.4L546.1 751.5L546.6 751.6L547.1 751.0L547.5 750.5L548.0 750.9L548.5 750.1L548.9 749.1L549.4 748.4L549.9 747.5L550.3 749.8L550.8 749.1L551.3 750.9L551.8 746.1L552.2 748.6L552.7 747.8L553.2 747.2L553.6 749.2L554.1 747.4L554.6 748.1L555.0 750.2L555.5 748.2L556.0 747.5L556.5 750.9L556.9 748.4L557.4 749.2L557.9 749.2L558.3 749.4L558.8 748.7L559.3 750.4L559.7 749.4L560.2 750.8L560.7 749.8L561.1 751.4L561.6 750.8L562.1 749.0L562.6 750.3L563.0 751.0L563.5 752.0L564.0 751.7L564.4 750.7L564.9 750.0L565.4 750.5L565.8 750.5L566.3 751.0L566.8 749.6L567.2 751.4L567.7 751.6L568.2 750.1L568.7 751.0L569.1 751.3L569.6 751.6L570.1 751.3L570.5 750.4L571.0 750.7L571.5 752.2L571.9 750.6L572.4 750.8L572.9 752.0L573.3 750.2L573.8 751.3L574.3 751.3L574.8 750.1L575.2 749.6L575.7 751.6L576.2 750.4L576.6 751.7L577.1 748.4L577.6 751.2L578.0 749.4L578.5 751.1L579.0 749.5L579.4 747.9L579.9 752.6L580.4 750.2L580.9 749.0L581.3 749.3L581.8 749.5L582.3 746.3L582.7 748.1L583.2 749.6L583.7 746.8L584.1 749.3L584.6 746.2L585.1 748.1L585.5 747.6L586.0 746.7L586.5 748.2L587.0 750.2L587.4 750.8L587.9 748.2L588.4 749.0L588.8 750.8L589.3 749.3L589.8 749.8L590.2 749.8L590.7 752.9L591.2 751.0L591.7 749.8L592.1 750.1L592.6 749.9L593.1 753.3L593.5 750.7L594.0 750.4L594.5 748.3L594.9 751.9L595.4 751.3L595.9 750.9L596.3 750.0L596.8 751.4L597.3 749.8L597.8 751.7L598.2 750.7L598.7 751.4L599.2 750.8L599.6 751.6L600.1 752.5L600.6 749.8L601.0 750.6L601.5 751.4L602.0 750.7L602.4 749.8L602.9 751.8L603.4 750.9L603.9 750.2L604.3 750.2L604.8 751.1L605.3 752.8L605.7 749.4L606.2 750.3L606.7 750.6L607.1 750.9L607.6 750.3L608.1 751.0L608.5 751.5L609.0 751.2L609.5 751.0L610.0 750.9L610.4 751.4L610.9 749.5L611.4 751.4L611.8 749.2L612.3 750.7L612.8 749.1L613.2 747.8L613.7 748.6L614.2 749.0L614.6 747.4L615.1 746.4L615.6 747.1L616.1 744.4L616.5 741.7L617.0 740.1L617.5 736.9L617.9 733.3L618.4 730.2L618.9 726.8L619.3 724.0L619.8 722.1L620.3 719.3L620.8 718.4L621.2 718.8L621.7 720.8L622.2 726.3L622.6 728.7L623.1 732.5L623.6 737.5L624.0 739.8L624.5 742.0L625.0 745.0L625.4 744.3L625.9 750.4L626.4 748.8L626.9 751.0L627.3 748.4L627.8 746.9L628.3 752.3L628.7 749.7L629.2 749.4L629.7 750.3L630.1 749.4L630.6 752.3L631.1 749.1L631.5 749.6L632.0 749.9L632.5 750.5L633.0 749.2L633.4 750.4L633.9 749.6L634.4 750.3L634.8 752.0L635.3 749.7L635.8 749.4L636.2 748.7L636.7 750.3L637.2 749.3L637.6 748.5L638.1 748.9L638.6 747.6L639.1 746.7L639.5 749.5L640.0 750.3L640.5 747.2L640.9 746.3L641.4 746.6L641.9 746.4L642.3 747.5L642.8 747.1L643.3 744.9L643.7 746.2L644.2 746.4L644.7 744.6L645.2 739.6L645.6 738.6L646.1 739.3L646.6 736.4L647.0 731.2L647.5 726.8L648.0 716.8L648.4 709.3L648.9 699.2L649.4 682.1L649.8 670.6L650.3 655.0L650.8 644.3L651.3 639.9L651.7 641.4L652.2 652.8L652.7 668.2L653.1 683.3L653.6 695.4L654.1 706.6L654.5 715.5L655.0 723.2L655.5 728.6L656.0 733.5L656.4 737.7L656.9 739.8L657.4 742.8L657.8 741.7L658.3 741.6L658.8 741.9L659.2 742.6L659.7 742.3L660.2 740.3L660.6 740.2L661.1 737.7L661.6 735.9L662.1 733.8L662.5 729.7L663.0 729.2L663.5 726.3L663.9 725.1L664.4 724.7L664.9 722.7L665.3 724.5L665.8 729.3L666.3 731.5L666.7 733.5L667.2 736.3L667.7 738.0L668.2 742.5L668.6 743.1L669.1 742.9L669.6 742.4L670.0 744.2L670.5 745.4L671.0 744.8L671.4 745.0L671.9 745.0L672.4 742.3L672.8 744.4L673.3 743.6L673.8 741.4L674.3 742.7L674.7 743.9L675.2 745.5L675.7 744.9L676.1 744.2L676.6 745.9L677.1 745.8L677.5 747.5L678.0 747.6L678.5 748.7L678.9 748.4L679.4 747.8L679.9 750.9L680.4 749.7L680.8 749.5L681.3 750.5L681.8 750.3L682.2 749.3L682.7 748.1L683.2 749.6L683.6 749.9L684.1 751.9L684.6 748.4L685.0 750.3L685.5 750.5L686.0 751.6L686.5 750.5L686.9 751.6L687.4 750.4L687.9 750.1L688.3 750.5L688.8 750.3L689.3 751.4L689.7 749.2L690.2 751.3L690.7 752.5L691.2 750.8L691.6 751.4L692.1 751.7L692.6 751.0L693.0 750.4L693.5 751.8L694.0 750.8L694.4 749.2L694.9 750.0L695.4 750.8L695.8 750.5L696.3 750.7L696.8 750.7L697.3 749.9L697.7 750.7L698.2 753.0L698.7 750.5L699.1 751.4L699.6 749.7L700.1 751.0L700.5 750.1L701.0 748.0L701.5 751.1L701.9 751.1L702.4 751.2L702.9 752.0L703.4 751.3L703.8 748.7L704.3 749.5L704.8 750.4L705.2 749.7L705.7 747.1L706.2 748.1L706.6 747.2L707.1 745.9L707.6 744.2L708.0 742.9L708.5 743.1L709.0 743.3L709.5 742.4L709.9 739.8L710.4 739.3L710.9 740.2L711.3 738.4L711.8 737.5L712.3 736.8L712.7 736.3L713.2 736.3L713.7 734.3L714.1 734.5L714.6 730.2L715.1 730.1L715.6 731.3L716.0 727.3L716.5 727.2L717.0 729.9L717.4 724.5L717.9 725.0L718.4 722.6L718.8 726.2L719.3 723.8L719.8 724.6L720.3 726.0L720.7 727.5L721.2 728.0L721.7 732.7L722.1 733.8L722.6 735.3L723.1 735.6L723.5 736.8L724.0 736.7L724.5 737.7L724.9 738.7L725.4 740.1L725.9 740.3L726.4 739.1L726.8 739.6L727.3 740.4L727.8 740.9L728.2 738.6L728.7 740.7L729.2 738.9L729.6 737.6L730.1 738.3L730.6 735.8L731.0 736.5L731.5 732.1L732.0 730.7L732.5 730.1L732.9 724.1L733.4 722.4L733.9 715.4L734.3 713.6L734.8 708.2L735.3 702.7L735.7 699.0L736.2 694.2L736.7 692.9L737.1 690.5L737.6 694.4L738.1 699.5L738.6 710.0L739.0 710.4L739.5 716.9L740.0 723.2L740.4 723.9L740.9 725.9L741.4 727.0L741.8 731.1L742.3 729.1L742.8 732.1L743.2 729.9L743.7 733.6L744.2 733.2L744.7 734.9L745.1 736.5L745.6 735.2L746.1 737.2L746.5 738.4L747.0 740.9L747.5 744.1L747.9 746.6L748.4 746.5L748.9 747.3L749.3 748.1L749.8 747.1L750.3 747.7L750.8 748.5L751.2 748.3L751.7 748.8L752.2 748.6L752.6 748.1L753.1 748.0L753.6 749.8L754.0 750.7L754.5 747.8L755.0 749.2L755.5 748.3L755.9 751.1L756.4 749.8L756.9 749.5L757.3 751.0L757.8 750.1L758.3 748.8L758.7 748.5L759.2 748.0L759.7 750.4L760.1 750.9L760.6 748.9L761.1 748.4L761.6 749.0L762.0 750.4L762.5 748.0L763.0 747.7L763.4 747.6L763.9 748.3L764.4 747.0L764.8 746.0L765.3 746.9L765.8 747.6L766.2 744.5L766.7 743.5L767.2 743.2L767.7 741.8L768.1 743.5L768.6 743.6L769.1 744.6L769.5 744.4L770.0 744.0L770.5 746.4L770.9 744.5L771.4 745.4L771.9 746.6L772.3 747.1L772.8 746.2L773.3 748.5L773.8 748.6L774.2 749.7L774.7 748.3L775.2 747.4L775.6 748.3L776.1 748.4L776.6 749.0L777.0 748.6L777.5 750.2L778.0 747.6L778.4 749.0L778.9 749.6L779.4 749.1L779.9 749.0L780.3 747.1L780.8 746.7L781.3 749.0L781.7 746.4L782.2 746.2L782.7 747.4L783.1 748.0L783.6 746.8L784.1 746.2L784.5 744.6L785.0 744.6L785.5 745.6L786.0 742.2L786.4 742.9L786.9 738.7L787.4 739.3L787.8 736.6L788.3 734.2L788.8 730.7L789.2 724.7L789.7 720.9L790.2 716.3L790.7 711.3L791.1 708.1L791.6 700.7L792.1 695.3L792.5 691.7L793.0 687.5L793.5 690.0L793.9 692.4L794.4 696.8L794.9 702.8L795.3 703.7L795.8 707.3L796.3 713.4L796.8 719.1L797.2 725.0L797.7 724.6L798.2 726.2L798.6 730.0L799.1 731.6L799.6 733.0L800.0 735.3L800.5 738.6L801.0 738.2L801.4 739.6L801.9 743.1L802.4 742.5L802.9 744.2L803.3 743.2L803.8 742.7L804.3 744.5L804.7 745.5L805.2 741.4L805.7 741.8L806.1 739.9L806.6 742.2L807.1 738.8L807.5 737.3L808.0 737.4L808.5 740.2L809.0 740.2L809.4 741.3L809.9 740.8L810.4 741.6L810.8 743.4L811.3 745.8L811.8 744.2L812.2 746.1L812.7 745.5L813.2 746.4L813.6 745.2L814.1 745.9L814.6 747.7L815.1 746.7L815.5 745.0L816.0 747.0L816.5 745.4L816.9 743.9L817.4 742.9L817.9 742.6L818.3 743.3L818.8 741.8L819.3 738.6L819.8 736.8L820.2 732.5L820.7 734.7L821.2 730.3L821.6 728.4L822.1 728.8L822.6 725.6L823.0 723.4L823.5 724.8L824.0 726.2L824.4 727.7L824.9 731.5L825.4 731.9L825.9 734.9L826.3 736.4L826.8 736.7L827.3 739.6L827.7 740.1L828.2 740.1L828.7 743.2L829.1 744.6L829.6 744.7L830.1 746.9L830.5 746.2L831.0 749.3L831.5 747.9L832.0 749.6L832.4 750.2L832.9 747.9L833.4 750.8L833.8 748.4L834.3 749.7L834.8 749.0L835.2 753.7L835.7 757.4" fill="none" stroke="#1E7A28" stroke-width="1.2" stroke-linejoin="round"/>
<path d="M155.17 748.01L155.63 747.91L156.10 747.81L156.57 747.70L157.04 747.59L157.51 747.48L157.98 747.36L158.45 747.24L158.92 747.11L159.39 746.97L159.86 746.83L160.33 746.68L160.80 746.52L161.27 746.35L161.74 746.18L162.21 745.99L162.67 745.80L163.14 745.60L163.61 745.38L164.08 745.16L164.55 744.92L165.02 744.67L165.49 744.40L165.96 744.11L166.43 743.81L166.90 743.49L167.37 743.15L167.84 742.79L168.31 742.40L168.78 741.99L169.25 741.55L169.71 741.08L170.18 740.57L170.65 740.02L171.12 739.44L171.59 738.80L172.06 738.12L172.53 737.38L173.00 736.58L173.47 735.71L173.94 734.76L174.41 733.73L174.88 732.60L175.35 731.36L175.82 730.00L176.29 728.50L176.75 726.84L177.22 724.99L177.69 722.94L178.16 720.64L178.63 718.07L179.10 715.17L179.57 711.88L180.04 708.15L180.51 703.87L180.98 698.95L181.45 693.25L181.92 686.61L182.39 678.79L182.86 669.50L183.33 658.38L183.79 644.91L184.26 628.47L184.73 608.22L185.20 583.13L185.67 551.93L186.14 513.18L186.61 465.34L187.08 407.22L187.55 338.82L188.02 262.98L188.49 187.62L188.96 126.83L189.43 97.26L189.90 117.50L190.37 196.32L190.83 304.41L191.30 414.33L191.77 509.68L192.24 583.66L192.71 636.09L193.18 670.65L193.65 692.29L194.12 705.61L194.59 713.96L195.06 719.49L195.53 723.42L196.00 726.40L196.47 728.74L196.94 730.64L197.41 732.21L197.87 733.51L198.34 734.60L198.81 735.52L199.28 736.31L199.75 736.98L200.22 737.56L200.69 738.06L201.16 738.49L201.63 738.88L202.10 739.22L202.57 739.52L203.04 739.79L203.51 740.04L203.98 740.27L204.45 740.48L204.92 740.68L205.38 740.86L205.85 741.04L206.32 741.22L206.79 741.39L207.26 741.55L207.73 741.70L208.20 741.84L208.67 741.97L209.14 742.09L209.61 742.21L210.08 742.33L210.55 742.44L211.02 742.55L211.49 742.65L211.96 742.75L212.42 742.85L212.89 742.94L213.36 743.04L213.83 743.13L214.30 743.22L214.77 743.30L215.24 743.39L215.71 743.48L216.18 743.56L216.65 743.65L217.12 743.73L217.59 743.81L218.06 743.90L218.53 743.98L219.00 744.06L219.46 744.15L219.93 744.23L220.40 744.31L220.87 744.39L221.34 744.48L221.81 744.56L222.28 744.64L222.75 744.72L223.22 744.80L223.69 744.89L224.16 744.97L224.63 745.05L225.10 745.13L225.57 745.22L226.04 745.30L226.50 745.38L226.97 745.47L227.44 745.55L227.91 745.63L228.38 745.71L228.85 745.80L229.32 745.88L229.79 745.96L230.26 746.04L230.73 746.13L231.20 746.21L231.67 746.29L232.14 746.37L232.61 746.45L233.08 746.53L233.54 746.62L234.01 746.70L234.48 746.78L234.95 746.86L235.42 746.93L235.89 747.01L236.36 747.09L236.83 747.17L237.30 747.25L237.77 747.32L238.24 747.40L238.71 747.48L239.18 747.55L239.65 747.63L240.12 747.70L240.58 747.77L241.05 747.85L241.52 747.92L241.99 747.99L242.46 748.06L242.93 748.13L243.40 748.20L243.87 748.27L244.34 748.33L244.81 748.40L245.28 748.47L245.75 748.53L246.22 748.60L246.69 748.66L247.16 748.72L247.62 748.78L248.09 748.84L248.56 748.90L249.03 748.96L249.50 749.02L249.97 749.08L250.44 749.13L250.91 749.19L251.38 749.24L251.85 749.30L252.32 749.35L252.79 749.40L253.26 749.45L253.73 749.50L254.20 749.55L254.67 749.60L255.13 749.64L255.60 749.69L256.07 749.73L256.54 749.78L257.01 749.82L257.48 749.86L257.95 749.90L258.42 749.95L258.89 749.98L259.36 750.02L259.83 750.06L260.30 750.10L260.77 750.13L261.24 750.17L261.71 750.20L262.17 750.24L262.64 750.27L263.11 750.30L263.58 750.33L264.05 750.36L264.52 750.39L264.99 750.42L265.46 750.45L265.93 750.48L266.40 750.51L266.87 750.53L267.34 750.56L267.81 750.58L268.28 750.61L268.75 750.63L269.21 750.65L269.68 750.67L270.15 750.69L270.62 750.72L271.09 750.74L271.56 750.76L272.03 750.77L272.50 750.79L272.97 750.81L273.44 750.83L273.91 750.84L274.38 750.86L274.85 750.88L275.32 750.89L275.79 750.91L276.25 750.92L276.72 750.93L277.19 750.95L277.66 750.96L278.13 750.97L278.60 750.99L279.07 751.00L279.54 751.01L280.01 751.02L280.48 751.03L280.95 751.04L281.42 751.05L281.89 751.06L282.36 751.07L282.83 751.08L283.29 751.08L283.76 751.09L284.23 751.10L284.70 751.11L285.17 751.11L285.64 751.12L286.11 751.13L286.58 751.13L287.05 751.14L287.52 751.15L287.99 751.15L288.46 751.16L288.93 751.16L289.40 751.17L289.87 751.17L290.33 751.18L290.80 751.18L291.27 751.18L291.74 751.19L292.21 751.19L292.68 751.19L293.15 751.20L293.62 751.20L294.09 751.20L294.56 751.20L295.03 751.20L295.50 751.20L295.97 751.20L296.44 751.21L296.91 751.21L297.38 751.20L297.84 751.20L298.31 751.20L298.78 751.20L299.25 751.20L299.72 751.19L300.19 751.19L300.66 751.18L301.13 751.18L301.60 751.17L302.07 751.15L302.54 751.14L303.01 751.11L303.48 751.07L303.95 751.00L304.42 750.88L304.88 750.65L305.35 750.25L305.82 749.60L306.29 748.62L306.76 747.24L307.23 745.48L307.70 743.43L308.17 741.33L308.64 739.49L309.11 738.26L309.58 737.94L310.05 738.46L310.52 739.65L310.99 741.33L311.46 743.25L311.92 745.16L312.39 746.88L312.86 748.30L313.33 749.37L313.80 750.13L314.27 750.63L314.74 750.94L315.21 751.11L315.68 751.21L316.15 751.25L316.62 751.28L317.09 751.29L317.56 751.29L318.03 751.29L318.50 751.29L318.96 751.29L319.43 751.29L319.90 751.29L320.37 751.29L320.84 751.29L321.31 751.29L321.78 751.29L322.25 751.29L322.72 751.29L323.19 751.29L323.66 751.28L324.13 751.28L324.60 751.28L325.07 751.28L325.54 751.28L326.00 751.27L326.47 751.27L326.94 751.27L327.41 751.26L327.88 751.26L328.35 751.26L328.82 751.25L329.29 751.25L329.76 751.24L330.23 751.23L330.70 751.23L331.17 751.22L331.64 751.21L332.11 751.20L332.58 751.19L333.04 751.18L333.51 751.16L333.98 751.14L334.45 751.12L334.92 751.10L335.39 751.06L335.86 751.03L336.33 750.98L336.80 750.92L337.27 750.85L337.74 750.77L338.21 750.67L338.68 750.55L339.15 750.41L339.62 750.26L340.08 750.08L340.55 749.89L341.02 749.68L341.49 749.46L341.96 749.24L342.43 749.02L342.90 748.82L343.37 748.65L343.84 748.53L344.31 748.47L344.78 748.48L345.25 748.56L345.72 748.71L346.19 748.91L346.66 749.14L347.13 749.38L347.59 749.62L348.06 749.85L348.53 750.07L349.00 750.26L349.47 750.43L349.94 750.58L350.41 750.70L350.88 750.81L351.35 750.89L351.82 750.96L352.29 751.02L352.76 751.06L353.23 751.10L353.70 751.13L354.17 751.15L354.63 751.17L355.10 751.19L355.57 751.20L356.04 751.21L356.51 751.22L356.98 751.23L357.45 751.24L357.92 751.24L358.39 751.25L358.86 751.25L359.33 751.26L359.80 751.26L360.27 751.27L360.74 751.27L361.21 751.27L361.67 751.28L362.14 751.28L362.61 751.28L363.08 751.28L363.55 751.28L364.02 751.29L364.49 751.29L364.96 751.29L365.43 751.29L365.90 751.29L366.37 751.29L366.84 751.29L367.31 751.29L367.78 751.29L368.25 751.29L368.71 751.29L369.18 751.29L369.65 751.29L370.12 751.29L370.59 751.29L371.06 751.29L371.53 751.29L372.00 751.29L372.47 751.29L372.94 751.29L373.41 751.29L373.88 751.29L374.35 751.28L374.82 751.28L375.29 751.28L375.75 751.28L376.22 751.28L376.69 751.28L377.16 751.27L377.63 751.27L378.10 751.27L378.57 751.27L379.04 751.26L379.51 751.26L379.98 751.26L380.45 751.26L380.92 751.25L381.39 751.25L381.86 751.25L382.33 751.24L382.79 751.24L383.26 751.23L383.73 751.23L384.20 751.22L384.67 751.22L385.14 751.21L385.61 751.21L386.08 751.20L386.55 751.20L387.02 751.19L387.49 751.18L387.96 751.17L388.43 751.17L388.90 751.16L389.37 751.15L389.83 751.14L390.30 751.13L390.77 751.11L391.24 751.10L391.71 751.09L392.18 751.07L392.65 751.05L393.12 751.03L393.59 751.01L394.06 750.98L394.53 750.95L395.00 750.92L395.47 750.88L395.94 750.83L396.41 750.77L396.88 750.69L397.34 750.61L397.81 750.51L398.28 750.39L398.75 750.24L399.22 750.08L399.69 749.88L400.16 749.65L400.63 749.40L401.10 749.10L401.57 748.77L402.04 748.40L402.51 747.99L402.98 747.55L403.45 747.07L403.92 746.57L404.38 746.04L404.85 745.50L405.32 744.95L405.79 744.41L406.26 743.88L406.73 743.39L407.20 742.95L407.67 742.57L408.14 742.27L408.61 742.07L409.08 741.98L409.55 741.99L410.02 742.13L410.49 742.37L410.96 742.70L411.42 743.13L411.89 743.61L412.36 744.15L412.83 744.71L413.30 745.30L413.77 745.88L414.24 746.45L414.71 747.00L415.18 747.52L415.65 748.00L416.12 748.44L416.59 748.84L417.06 749.20L417.53 749.51L418.00 749.77L418.46 750.00L418.93 750.19L419.40 750.35L419.87 750.47L420.34 750.57L420.81 750.65L421.28 750.70L421.75 750.74L422.22 750.76L422.69 750.77L423.16 750.75L423.63 750.71L424.10 750.63L424.57 750.45L425.04 750.11L425.50 749.46L425.97 748.39L426.44 746.86L426.91 745.06L427.38 743.56L427.85 743.12L428.32 743.74L428.79 744.98L429.26 746.39L429.73 747.68L430.20 748.72L430.67 749.48L431.14 749.98L431.61 750.30L432.08 750.49L432.54 750.61L433.01 750.69L433.48 750.74L433.95 750.77L434.42 750.80L434.89 750.82L435.36 750.83L435.83 750.83L436.30 750.83L436.77 750.83L437.24 750.82L437.71 750.80L438.18 750.78L438.65 750.75L439.12 750.71L439.59 750.66L440.05 750.59L440.52 750.50L440.99 750.39L441.46 750.25L441.93 750.08L442.40 749.87L442.87 749.62L443.34 749.31L443.81 748.96L444.28 748.56L444.75 748.12L445.22 747.64L445.69 747.14L446.16 746.63L446.63 746.14L447.09 745.71L447.56 745.36L448.03 745.14L448.50 745.06L448.97 745.13L449.44 745.30L449.91 745.58L450.38 745.94L450.85 746.35L451.32 746.79L451.79 747.25L452.26 747.70L452.73 748.13L453.20 748.54L453.67 748.91L454.13 749.24L454.60 749.53L455.07 749.77L455.54 749.98L456.01 750.14L456.48 750.28L456.95 750.38L457.42 750.46L457.89 750.52L458.36 750.56L458.83 750.58L459.30 750.59L459.77 750.58L460.24 750.56L460.71 750.51L461.17 750.43L461.64 750.29L462.11 750.06L462.58 749.71L463.05 749.19L463.52 748.49L463.99 747.61L464.46 746.61L464.93 745.62L465.40 744.82L465.87 744.44L466.34 744.55L466.81 744.96L467.28 745.60L467.75 746.35L468.21 747.11L468.68 747.83L469.15 748.46L469.62 748.97L470.09 749.38L470.56 749.68L471.03 749.89L471.50 750.03L471.97 750.12L472.44 750.18L472.91 750.20L473.38 750.21L473.85 750.21L474.32 750.20L474.79 750.18L475.25 750.16L475.72 750.12L476.19 750.09L476.66 750.05L477.13 750.00L477.60 749.95L478.07 749.89L478.54 749.82L479.01 749.75L479.48 749.67L479.95 749.59L480.42 749.49L480.89 749.39L481.36 749.27L481.83 749.14L482.29 749.00L482.76 748.85L483.23 748.67L483.70 748.48L484.17 748.26L484.64 748.02L485.11 747.74L485.58 747.43L486.05 747.08L486.52 746.67L486.99 746.21L487.46 745.67L487.93 745.04L488.40 744.30L488.87 743.43L489.34 742.37L489.80 741.06L490.27 739.38L490.74 737.13L491.21 733.93L491.68 729.17L492.15 721.96L492.62 711.06L493.09 695.13L493.56 673.02L494.03 644.34L494.50 610.08L494.97 573.51L495.44 541.08L495.91 522.15L496.38 530.27L496.84 577.85L497.31 631.51L497.78 672.93L498.25 700.14L498.72 716.55L499.19 726.20L499.66 732.09L500.13 735.97L500.60 738.71L501.07 740.73L501.54 742.26L502.01 743.43L502.48 744.34L502.95 745.05L503.42 745.58L503.88 745.98L504.35 746.26L504.82 746.43L505.29 746.51L505.76 746.50L506.23 746.41L506.70 746.25L507.17 746.03L507.64 745.77L508.11 745.48L508.58 745.21L509.05 744.99L509.52 744.86L509.99 744.85L510.46 745.21L510.92 746.03L511.39 746.97L511.86 747.81L512.33 748.44L512.80 748.82L513.27 748.94L513.74 748.80L514.21 748.41L514.68 747.77L515.15 746.94L515.62 746.06L516.09 745.38L516.56 745.24L517.03 745.64L517.50 746.37L517.96 747.20L518.43 747.95L518.90 748.52L519.37 748.89L519.84 749.02L520.31 748.93L520.78 748.59L521.25 748.04L521.72 747.29L522.19 746.43L522.66 745.59L523.13 745.02L523.60 744.95L524.07 745.39L524.54 746.15L525.00 747.02L525.47 747.81L525.94 748.44L526.41 748.86L526.88 749.06L527.35 749.03L527.82 748.77L528.29 748.28L528.76 747.56L529.23 746.65L529.70 745.60L530.17 744.57L530.64 743.78L531.11 743.50L531.58 743.96L532.05 745.06L532.51 746.38L532.98 747.63L533.45 748.65L533.92 749.41L534.39 749.92L534.86 750.25L535.33 750.46L535.80 750.59L536.27 750.68L536.74 750.75L537.21 750.80L537.68 750.83L538.15 750.86L538.62 750.89L539.09 750.91L539.55 750.93L540.02 750.94L540.49 750.95L540.96 750.95L541.43 750.96L541.90 750.96L542.37 750.96L542.84 750.95L543.31 750.95L543.78 750.93L544.25 750.91L544.72 750.89L545.19 750.85L545.66 750.81L546.13 750.74L546.59 750.66L547.06 750.56L547.53 750.43L548.00 750.26L548.47 750.07L548.94 749.83L549.41 749.57L549.88 749.27L550.35 748.96L550.82 748.63L551.29 748.32L551.76 748.04L552.23 747.84L552.70 747.72L553.17 747.71L553.63 747.78L554.10 747.90L554.57 748.07L555.04 748.27L555.51 748.50L555.98 748.74L556.45 748.98L556.92 749.21L557.39 749.43L557.86 749.64L558.33 749.83L558.80 750.01L559.27 750.16L559.74 750.30L560.21 750.41L560.67 750.52L561.14 750.60L561.61 750.68L562.08 750.74L562.55 750.79L563.02 750.84L563.49 750.87L563.96 750.90L564.43 750.93L564.90 750.95L565.37 750.97L565.84 750.98L566.31 750.99L566.78 751.00L567.25 751.01L567.71 751.02L568.18 751.02L568.65 751.02L569.12 751.03L569.59 751.03L570.06 751.03L570.53 751.03L571.00 751.02L571.47 751.02L571.94 751.01L572.41 751.01L572.88 751.00L573.35 750.99L573.82 750.98L574.29 750.96L574.75 750.94L575.22 750.92L575.69 750.89L576.16 750.86L576.63 750.81L577.10 750.76L577.57 750.69L578.04 750.60L578.51 750.49L578.98 750.35L579.45 750.18L579.92 749.98L580.39 749.75L580.86 749.48L581.33 749.18L581.80 748.86L582.26 748.52L582.73 748.19L583.20 747.89L583.67 747.64L584.14 747.48L584.61 747.44L585.08 747.52L585.55 747.73L586.02 748.02L586.49 748.37L586.96 748.73L587.43 749.09L587.90 749.42L588.37 749.71L588.84 749.96L589.30 750.18L589.77 750.35L590.24 750.49L590.71 750.60L591.18 750.68L591.65 750.75L592.12 750.79L592.59 750.83L593.06 750.86L593.53 750.88L594.00 750.89L594.47 750.91L594.94 750.92L595.41 750.92L595.88 750.93L596.34 750.93L596.81 750.93L597.28 750.93L597.75 750.93L598.22 750.92L598.69 750.92L599.16 750.91L599.63 750.91L600.10 750.90L600.57 750.89L601.04 750.88L601.51 750.87L601.98 750.86L602.45 750.84L602.92 750.83L603.38 750.81L603.85 750.79L604.32 750.77L604.79 750.75L605.26 750.73L605.73 750.70L606.20 750.67L606.67 750.64L607.14 750.60L607.61 750.57L608.08 750.52L608.55 750.48L609.02 750.43L609.49 750.37L609.96 750.30L610.42 750.22L610.89 750.13L611.36 750.02L611.83 749.88L612.30 749.71L612.77 749.48L613.24 749.17L613.71 748.76L614.18 748.21L614.65 747.48L615.12 746.52L615.59 745.28L616.06 743.73L616.53 741.84L617.00 739.61L617.46 737.04L617.93 734.21L618.40 731.21L618.87 728.19L619.34 725.34L619.81 722.89L620.28 721.12L620.75 720.23L621.22 720.48L621.69 722.22L622.16 725.13L622.63 728.76L623.10 732.64L623.57 736.40L624.04 739.76L624.50 742.59L624.97 744.83L625.44 746.51L625.91 747.71L626.38 748.54L626.85 749.08L627.32 749.43L627.79 749.65L628.26 749.79L628.73 749.87L629.20 749.93L629.67 749.96L630.14 749.98L630.61 749.98L631.08 749.98L631.55 749.97L632.01 749.95L632.48 749.93L632.95 749.90L633.42 749.86L633.89 749.82L634.36 749.76L634.83 749.71L635.30 749.64L635.77 749.57L636.24 749.48L636.71 749.39L637.18 749.29L637.65 749.17L638.12 749.04L638.59 748.90L639.05 748.73L639.52 748.55L639.99 748.35L640.46 748.12L640.93 747.86L641.40 747.56L641.87 747.22L642.34 746.83L642.81 746.38L643.28 745.85L643.75 745.22L644.22 744.46L644.69 743.51L645.16 742.30L645.63 740.70L646.09 738.52L646.56 735.54L647.03 731.44L647.50 725.89L647.97 718.55L648.44 709.17L648.91 697.71L649.38 684.42L649.85 670.09L650.32 656.32L650.79 645.60L651.26 640.77L651.73 643.39L652.20 652.58L652.67 665.68L653.13 679.97L653.60 693.61L654.07 705.57L654.54 715.48L655.01 723.30L655.48 729.24L655.95 733.61L656.42 736.74L656.89 738.95L657.36 740.48L657.83 741.52L658.30 742.16L658.77 742.47L659.24 742.46L659.71 742.09L660.17 741.35L660.64 740.19L661.11 738.58L661.58 736.55L662.05 734.16L662.52 731.53L662.99 728.91L663.46 726.64L663.93 725.15L664.40 724.82L664.87 725.63L665.34 727.37L665.81 729.70L666.28 732.30L666.75 734.89L667.21 737.28L667.68 739.35L668.15 741.06L668.62 742.39L669.09 743.36L669.56 743.99L670.03 744.35L670.50 744.49L670.97 744.45L671.44 744.30L671.91 744.10L672.38 743.88L672.85 743.72L673.32 743.65L673.79 743.71L674.26 743.93L674.72 744.31L675.19 744.80L675.66 745.37L676.13 745.96L676.60 746.56L677.07 747.12L677.54 747.64L678.01 748.10L678.48 748.51L678.95 748.86L679.42 749.15L679.89 749.39L680.36 749.59L680.83 749.75L681.30 749.89L681.76 749.99L682.23 750.08L682.70 750.15L683.17 750.21L683.64 750.27L684.11 750.31L684.58 750.35L685.05 750.39L685.52 750.42L685.99 750.45L686.46 750.47L686.93 750.50L687.40 750.52L687.87 750.54L688.34 750.55L688.80 750.57L689.27 750.58L689.74 750.60L690.21 750.61L690.68 750.62L691.15 750.63L691.62 750.64L692.09 750.64L692.56 750.65L693.03 750.65L693.50 750.65L693.97 750.66L694.44 750.65L694.91 750.65L695.38 750.65L695.84 750.64L696.31 750.63L696.78 750.61L697.25 750.60L697.72 750.57L698.19 750.54L698.66 750.50L699.13 750.46L699.60 750.40L700.07 750.34L700.54 750.26L701.01 750.16L701.48 750.05L701.95 749.91L702.42 749.76L702.88 749.57L703.35 749.36L703.82 749.12L704.29 748.84L704.76 748.52L705.23 748.16L705.70 747.75L706.17 747.30L706.64 746.80L707.11 746.24L707.58 745.63L708.05 744.97L708.52 744.25L708.99 743.47L709.46 742.64L709.92 741.77L710.39 740.84L710.86 739.88L711.33 738.88L711.80 737.86L712.27 736.81L712.74 735.76L713.21 734.71L713.68 733.67L714.15 732.65L714.62 731.67L715.09 730.73L715.56 729.85L716.03 729.05L716.50 728.32L716.96 727.68L717.43 727.14L717.90 726.71L718.37 726.39L718.84 726.18L719.31 726.10L719.78 726.42L720.25 727.16L720.72 728.23L721.19 729.52L721.66 730.92L722.13 732.33L722.60 733.70L723.07 734.97L723.54 736.11L724.01 737.13L724.47 738.00L724.94 738.74L725.41 739.34L725.88 739.82L726.35 740.18L726.82 740.42L727.29 740.54L727.76 740.53L728.23 740.38L728.70 740.07L729.17 739.59L729.64 738.90L730.11 737.97L730.58 736.75L731.05 735.20L731.51 733.28L731.98 730.95L732.45 728.17L732.92 724.93L733.39 721.24L733.86 717.15L734.33 712.73L734.80 708.14L735.27 703.63L735.74 699.53L736.21 696.25L736.68 694.19L737.15 693.73L737.62 696.22L738.09 701.04L738.55 706.77L739.02 712.29L739.49 717.06L739.96 720.96L740.43 724.05L740.90 726.46L741.37 728.35L741.84 729.82L742.31 730.99L742.78 731.94L743.25 732.72L743.72 733.39L744.19 733.98L744.66 734.52L745.13 735.16L745.59 736.45L746.06 738.19L746.53 740.08L747.00 741.89L747.47 743.48L747.94 744.79L748.41 745.84L748.88 746.63L749.35 747.23L749.82 747.67L750.29 748.00L750.76 748.26L751.23 748.47L751.70 748.64L752.17 748.79L752.63 748.91L753.10 749.02L753.57 749.12L754.04 749.20L754.51 749.28L754.98 749.34L755.45 749.40L755.92 749.45L756.39 749.49L756.86 749.53L757.33 749.56L757.80 749.58L758.27 749.59L758.74 749.59L759.21 749.58L759.67 749.55L760.14 749.50L760.61 749.44L761.08 749.34L761.55 749.20L762.02 749.03L762.49 748.80L762.96 748.52L763.43 748.19L763.90 747.80L764.37 747.37L764.84 746.89L765.31 746.39L765.78 745.90L766.25 745.43L766.72 745.04L767.18 744.76L767.65 744.63L768.12 744.65L768.59 744.80L769.06 745.06L769.53 745.41L770.00 745.80L770.47 746.22L770.94 746.64L771.41 747.04L771.88 747.42L772.35 747.75L772.82 748.04L773.29 748.28L773.76 748.48L774.22 748.63L774.69 748.74L775.16 748.81L775.63 748.85L776.10 748.86L776.57 748.84L777.04 748.80L777.51 748.74L777.98 748.67L778.45 748.57L778.92 748.46L779.39 748.33L779.86 748.18L780.33 748.01L780.80 747.82L781.26 747.60L781.73 747.36L782.20 747.08L782.67 746.77L783.14 746.40L783.61 745.99L784.08 745.50L784.55 744.93L785.02 744.25L785.49 743.43L785.96 742.44L786.43 741.24L786.90 739.77L787.37 737.97L787.84 735.79L788.30 733.15L788.77 730.01L789.24 726.30L789.71 722.02L790.18 717.17L790.65 711.85L791.12 706.27L791.59 700.79L792.06 695.96L792.53 692.45L793.00 690.85L793.47 691.25L793.94 693.16L794.41 696.29L794.88 700.27L795.34 704.70L795.81 709.26L796.28 713.68L796.75 717.79L797.22 721.51L797.69 724.80L798.16 727.71L798.63 730.31L799.10 732.69L799.57 734.78L800.04 736.56L800.51 738.08L800.98 739.36L801.45 740.45L801.92 741.35L802.38 742.10L802.85 742.68L803.32 743.10L803.79 743.34L804.26 743.39L804.73 743.22L805.20 742.84L805.67 742.26L806.14 741.53L806.61 740.73L807.08 740.03L807.55 739.61L808.02 739.66L808.49 740.00L808.96 740.52L809.42 741.17L809.89 741.92L810.36 742.71L810.83 743.52L811.30 744.29L811.77 745.01L812.24 745.65L812.71 746.19L813.18 746.63L813.65 746.95L814.12 747.14L814.59 747.20L815.06 747.11L815.53 746.87L816.00 746.48L816.47 745.91L816.93 745.16L817.40 744.24L817.87 743.14L818.34 741.86L818.81 740.44L819.28 738.89L819.75 737.26L820.22 735.60L820.69 733.97L821.16 732.45L821.63 731.13L822.10 730.09L822.57 729.41L823.04 729.15L823.51 729.29L823.97 729.77L824.44 730.56L824.91 731.60L825.38 732.86L825.85 734.28L826.32 735.79L826.79 737.35L827.26 738.91L827.73 740.43L828.20 741.87L828.67 743.21L829.14 744.43L829.61 745.51L830.08 746.47L830.55 747.29L831.01 747.98L831.48 748.56L831.95 749.04L832.42 749.43L832.89 749.74L833.36 749.99L833.83 750.18L834.30 750.33L834.77 750.45L835.24 750.55L835.71 750.62" fill="none" stroke="#E4975A" stroke-width="1.5" stroke-linejoin="round"/>
<line x1="189.5" y1="751.5" x2="189.5" y2="312.98" stroke="#EE9A50" stroke-width="1"/>
<line x1="206.5" y1="751.5" x2="206.5" y2="747.05" stroke="#EE9A50" stroke-width="1"/>
<line x1="309.5" y1="751.5" x2="309.5" y2="741.49" stroke="#EE9A50" stroke-width="1"/>
<line x1="344.5" y1="751.5" x2="344.5" y2="749.54" stroke="#EE9A50" stroke-width="1"/>
<line x1="409.5" y1="751.5" x2="409.5" y2="746.31" stroke="#EE9A50" stroke-width="1"/>
<line x1="427.5" y1="751.5" x2="427.5" y2="744.24" stroke="#EE9A50" stroke-width="1"/>
<line x1="448.5" y1="751.5" x2="448.5" y2="747.37" stroke="#EE9A50" stroke-width="1"/>
<line x1="465.5" y1="751.5" x2="465.5" y2="747.17" stroke="#EE9A50" stroke-width="1"/>
<line x1="496.5" y1="751.5" x2="496.5" y2="589.61" stroke="#EE9A50" stroke-width="1"/>
<line x1="509.5" y1="751.5" x2="509.5" y2="748.16" stroke="#EE9A50" stroke-width="1"/>
<line x1="516.5" y1="751.5" x2="516.5" y2="748.03" stroke="#EE9A50" stroke-width="1"/>
<line x1="523.5" y1="751.5" x2="523.5" y2="747.66" stroke="#EE9A50" stroke-width="1"/>
<line x1="531.5" y1="751.5" x2="531.5" y2="746.47" stroke="#EE9A50" stroke-width="1"/>
<line x1="552.5" y1="751.5" x2="552.5" y2="749.11" stroke="#EE9A50" stroke-width="1"/>
<line x1="584.5" y1="751.5" x2="584.5" y2="748.96" stroke="#EE9A50" stroke-width="1"/>
<line x1="620.5" y1="751.5" x2="620.5" y2="728.08" stroke="#EE9A50" stroke-width="1"/>
<line x1="651.5" y1="751.5" x2="651.5" y2="671.89" stroke="#EE9A50" stroke-width="1"/>
<line x1="664.5" y1="751.5" x2="664.5" y2="735.04" stroke="#EE9A50" stroke-width="1"/>
<line x1="673.5" y1="751.5" x2="673.5" y2="747.53" stroke="#EE9A50" stroke-width="1"/>
<line x1="719.5" y1="751.5" x2="719.5" y2="734.08" stroke="#EE9A50" stroke-width="1"/>
<line x1="736.5" y1="751.5" x2="736.5" y2="715.33" stroke="#EE9A50" stroke-width="1"/>
<line x1="744.5" y1="751.5" x2="744.5" y2="743.35" stroke="#EE9A50" stroke-width="1"/>
<line x1="767.5" y1="751.5" x2="767.5" y2="747.65" stroke="#EE9A50" stroke-width="1"/>
<line x1="793.5" y1="751.5" x2="793.5" y2="710.36" stroke="#EE9A50" stroke-width="1"/>
<line x1="799.5" y1="751.5" x2="799.5" y2="738.16" stroke="#EE9A50" stroke-width="1"/>
<line x1="807.5" y1="751.5" x2="807.5" y2="744.68" stroke="#EE9A50" stroke-width="1"/>
<line x1="823.5" y1="751.5" x2="823.5" y2="735.12" stroke="#EE9A50" stroke-width="1"/>
</g>
<text transform="translate(193.8,182.0) rotate(-90)" font-size="13.4" fill="#EE8A3C" stroke="#EE8A3C" stroke-width="0.2">d=13.662(5)</text>
<text transform="translate(210.8,617.1) rotate(-90)" font-size="13.4" fill="#EE8A3C" stroke="#EE8A3C" stroke-width="0.2">d=12.29(7)</text>
<text transform="translate(313.8,612.7) rotate(-90)" font-size="13.4" fill="#EE8A3C" stroke="#EE8A3C" stroke-width="0.2">d=7.638(8)</text>
<text transform="translate(348.8,618.8) rotate(-90)" font-size="13.4" fill="#EE8A3C" stroke="#EE8A3C" stroke-width="0.2">d=6.769(16)</text>
<text transform="translate(413.5,615.7) rotate(-90)" font-size="13.4" fill="#EE8A3C" stroke="#EE8A3C" stroke-width="0.2">d=5.595(8)</text>
<text transform="translate(432.1,615.7) rotate(-90)" font-size="13.4" fill="#EE8A3C" stroke="#EE8A3C" stroke-width="0.2">d=5.331(3)</text>
<text transform="translate(452.8,618.8) rotate(-90)" font-size="13.4" fill="#EE8A3C" stroke="#EE8A3C" stroke-width="0.2">d=5.064(7)</text>
<text transform="translate(470.2,617.6) rotate(-90)" font-size="13.4" fill="#EE8A3C" stroke="#EE8A3C" stroke-width="0.2">d=4.859(4)</text>
<text transform="translate(500.4,460.0) rotate(-90)" font-size="13.4" fill="#EE8A3C" stroke="#EE8A3C" stroke-width="0.2">d=4.5421(5)</text>
<text transform="translate(514.3,615.8) rotate(-90)" font-size="13.4" fill="#EE8A3C" stroke="#EE8A3C" stroke-width="0.2">d=4.4097(12)</text>
<text transform="translate(520.7,536.3) rotate(-90)" font-size="13.4" fill="#EE8A3C" stroke="#EE8A3C" stroke-width="0.2">d=4.351(7)</text>
<text transform="translate(528.5,616.0) rotate(-90)" font-size="13.4" fill="#EE8A3C" stroke="#EE8A3C" stroke-width="0.2">d=4.289(3)</text>
<text transform="translate(535.4,551.6) rotate(-90)" font-size="13.4" fill="#EE8A3C" stroke="#EE8A3C" stroke-width="0.2">d=4.223(4)</text>
<text transform="translate(557.2,618.2) rotate(-90)" font-size="13.4" fill="#EE8A3C" stroke="#EE8A3C" stroke-width="0.2">d=4.046(9)</text>
<text transform="translate(588.9,618.2) rotate(-90)" font-size="13.4" fill="#EE8A3C" stroke="#EE8A3C" stroke-width="0.2">d=3.815(3)</text>
<text transform="translate(625.2,597.2) rotate(-90)" font-size="13.4" fill="#EE8A3C" stroke="#EE8A3C" stroke-width="0.2">d=3.5805(15)</text>
<text transform="translate(655.6,541.3) rotate(-90)" font-size="13.4" fill="#EE8A3C" stroke="#EE8A3C" stroke-width="0.2">d=3.4059(5)</text>
<text transform="translate(668.6,466.9) rotate(-90)" font-size="13.4" fill="#EE8A3C" stroke="#EE8A3C" stroke-width="0.2">d=3.3365(8)</text>
<text transform="translate(678.0,618.9) rotate(-90)" font-size="13.4" fill="#EE8A3C" stroke="#EE8A3C" stroke-width="0.2">d=3.288(2)</text>
<text transform="translate(723.4,601.2) rotate(-90)" font-size="13.4" fill="#EE8A3C" stroke="#EE8A3C" stroke-width="0.2">d=3.0731(8)</text>
<text transform="translate(741.3,584.5) rotate(-90)" font-size="13.4" fill="#EE8A3C" stroke="#EE8A3C" stroke-width="0.2">d=2.9964(5)</text>
<text transform="translate(749.2,511.3) rotate(-90)" font-size="13.4" fill="#EE8A3C" stroke="#EE8A3C" stroke-width="0.2">d=2.9638(6)</text>
<text transform="translate(772.1,617.6) rotate(-90)" font-size="13.4" fill="#EE8A3C" stroke="#EE8A3C" stroke-width="0.2">d=2.873(7)</text>
<text transform="translate(797.4,578.2) rotate(-90)" font-size="13.4" fill="#EE8A3C" stroke="#EE8A3C" stroke-width="0.2">d=2.7791(7)</text>
<text transform="translate(803.3,505.4) rotate(-90)" font-size="13.4" fill="#EE8A3C" stroke="#EE8A3C" stroke-width="0.2">d=2.758(7)</text>
<text transform="translate(812.2,614.0) rotate(-90)" font-size="13.4" fill="#EE8A3C" stroke="#EE8A3C" stroke-width="0.2">d=2.727(2)</text>
<text transform="translate(827.4,549.4) rotate(-90)" font-size="13.4" fill="#EE8A3C" stroke="#EE8A3C" stroke-width="0.2">d=2.6757(11)</text>
<rect x="155.5" y="45.5" width="938" height="714" fill="none" stroke="#000" stroke-width="1.2"/>
<line x1="272.5" y1="759.5" x2="272.5" y2="765" stroke="#000" stroke-width="1.2"/>
<text transform="translate(272.2,778.2) scale(1,1.04)" font-size="15" text-anchor="middle" fill="#000">10</text>
<line x1="507.5" y1="759.5" x2="507.5" y2="765" stroke="#000" stroke-width="1.2"/>
<text transform="translate(507.2,778.2) scale(1,1.04)" font-size="15" text-anchor="middle" fill="#000">20</text>
<line x1="741.5" y1="759.5" x2="741.5" y2="765" stroke="#000" stroke-width="1.2"/>
<text transform="translate(741.2,778.2) scale(1,1.04)" font-size="15" text-anchor="middle" fill="#000">30</text>
<line x1="976.5" y1="759.5" x2="976.5" y2="765" stroke="#000" stroke-width="1.2"/>
<text transform="translate(976.2,778.2) scale(1,1.04)" font-size="15" text-anchor="middle" fill="#000">40</text>
<line x1="149" y1="751.5" x2="155.5" y2="751.5" stroke="#000" stroke-width="1.2"/>
<text transform="translate(150.1,756.3) scale(1,1.045)" font-size="14.8" text-anchor="end" fill="#000">0.0e+000</text>
<line x1="149" y1="603.5" x2="155.5" y2="603.5" stroke="#000" stroke-width="1.2"/>
<text transform="translate(150.1,608.3) scale(1,1.045)" font-size="14.8" text-anchor="end" fill="#000">2.0e+003</text>
<line x1="149" y1="454.5" x2="155.5" y2="454.5" stroke="#000" stroke-width="1.2"/>
<text transform="translate(150.1,459.3) scale(1,1.045)" font-size="14.8" text-anchor="end" fill="#000">4.0e+003</text>
<line x1="149" y1="306.5" x2="155.5" y2="306.5" stroke="#000" stroke-width="1.2"/>
<text transform="translate(150.1,311.3) scale(1,1.045)" font-size="14.8" text-anchor="end" fill="#000">6.0e+003</text>
<line x1="149" y1="158.5" x2="155.5" y2="158.5" stroke="#000" stroke-width="1.2"/>
<text transform="translate(150.1,163.3) scale(1,1.045)" font-size="14.8" text-anchor="end" fill="#000">8.0e+003</text>
<text transform="translate(625,801) scale(1,1.03)" font-size="15" text-anchor="middle" fill="#000">2-theta (deg)</text>
<text transform="translate(76.9,403) rotate(-90) scale(1,1.055)" font-size="15" text-anchor="middle" fill="#000">Intensity (cps)</text>
<text x="925.5" y="88" font-size="12" fill="#000">Meas. data:199-3</text>
<text x="925.5" y="104.5" font-size="12" fill="#000">Calc. data:199-3</text>
<line x1="1030" y1="84.5" x2="1052" y2="84.5" stroke="#1F6A30" stroke-width="1.2"/>
<line x1="1030" y1="100.5" x2="1052" y2="100.5" stroke="#D08A48" stroke-width="1.2"/>
</svg></body></html>
